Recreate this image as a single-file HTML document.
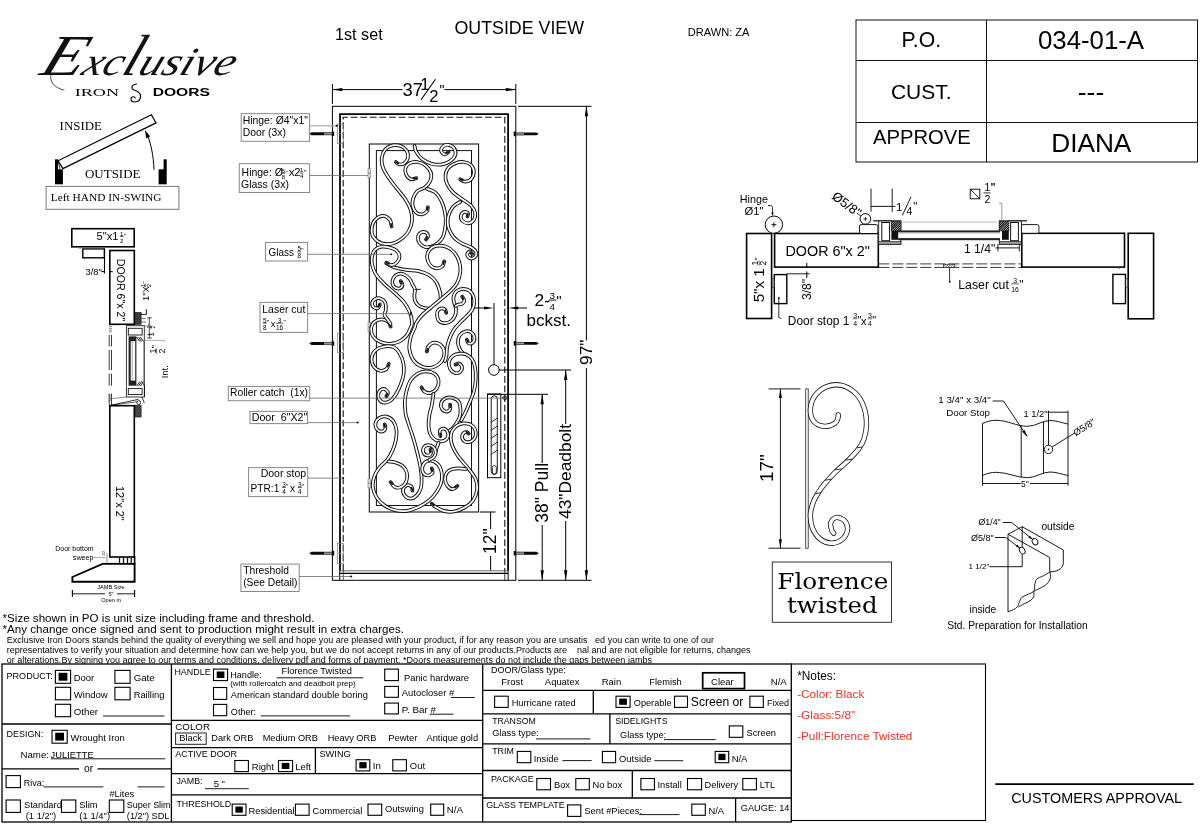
<!DOCTYPE html>
<html><head><meta charset="utf-8"><title>Door drawing</title>
<style>html,body{margin:0;padding:0;background:#fff}svg{display:block;will-change:transform;transform:translateZ(0)}text{white-space:pre}</style></head>
<body>
<svg width="1200" height="840" viewBox="0 0 1200 840" font-family='"Liberation Sans", sans-serif' fill="#000">
<rect x="0" y="0" width="1200" height="840" fill="#fff"/>
<g id="head">
<text x="335.05" y="39.6" font-size="16.16" textLength="47.6" lengthAdjust="spacingAndGlyphs">1st set</text>
<text x="454.48" y="33.8" font-size="17.81" textLength="129.6" lengthAdjust="spacingAndGlyphs">OUTSIDE VIEW</text>
<text x="687.67" y="36.4" font-size="11.09" textLength="61.82" lengthAdjust="spacingAndGlyphs">DRAWN: ZA</text>
<rect x="856" y="20" width="341.5" height="142" fill="none" stroke="#111" stroke-width="1"/>
<line x1="986.5" y1="20" x2="986.5" y2="162" stroke="#111" stroke-width="1"/>
<line x1="856" y1="60.5" x2="1197.5" y2="60.5" stroke="#111" stroke-width="1"/>
<line x1="856" y1="122.5" x2="1197.5" y2="122.5" stroke="#111" stroke-width="1"/>
<text x="921.3" y="47" font-size="21.2" text-anchor="middle">P.O.</text>
<text x="1091" y="49.3" font-size="25.8" text-anchor="middle">034-01-A</text>
<text x="921.3" y="99" font-size="21" text-anchor="middle">CUST.</text>
<text x="1091" y="101" font-size="26.5" text-anchor="middle">---</text>
<text x="872.93" y="143.5" font-size="20.22" textLength="97.78" lengthAdjust="spacingAndGlyphs">APPROVE</text>
<text x="1051.2" y="152" font-size="26.23" textLength="80.18" lengthAdjust="spacingAndGlyphs">DIANA</text>
<text y="75" font-style="italic" font-family='"Liberation Serif", serif' fill="#111" transform="translate(0 75) skewX(-21) translate(0 -75)"><tspan x="38" font-size="58" textLength="42" lengthAdjust="spacingAndGlyphs">E</tspan><tspan x="80" font-size="40" textLength="40" lengthAdjust="spacingAndGlyphs">xc</tspan><tspan x="120" font-size="58">l</tspan><tspan x="136.5" font-size="40" textLength="95" lengthAdjust="spacingAndGlyphs">usive</tspan></text>
<path d="M51 74C49 81 54 88 64 90" fill="none" stroke="#222" stroke-width="0.8" stroke-linecap="round"/>
<text x="74.66" y="96.4" font-size="11.3" textLength="44.36" lengthAdjust="spacingAndGlyphs" font-family='"Liberation Serif", serif'>IRON</text>
<text x="152.69" y="96.4" font-size="10.3" textLength="57.24" lengthAdjust="spacingAndGlyphs" font-weight="bold">DOORS</text>
<path d="M137 84 C132 84 130 88 134 90 C139 91 142 95 140 99 C138 103 131 103 131 99 C131 96 135 96 135.5 98.5" fill="none" stroke="#000" stroke-width="1.1"/>
<text x="59.61" y="129.7" font-size="12.89" textLength="42.26" lengthAdjust="spacingAndGlyphs" font-family='"Liberation Serif", serif'>INSIDE</text>
<text x="85.01" y="177.6" font-size="12.97" textLength="55.46" lengthAdjust="spacingAndGlyphs" font-family='"Liberation Serif", serif'>OUTSIDE</text>
<rect x="46.1" y="186.4" width="132.8" height="22.9" fill="none" stroke="#777" stroke-width="1"/>
<text x="50.73" y="200.7" font-size="11.39" textLength="110.7" lengthAdjust="spacingAndGlyphs" font-family='"Liberation Serif", serif'>Left HAND IN-SWING</text>
<rect x="55" y="169.3" width="7.9" height="15" fill="#000"/><rect x="55" y="159.3" width="3" height="11" fill="#000"/>
<rect x="158.6" y="169.3" width="8.1" height="15" fill="#000"/><rect x="163.6" y="159.3" width="3.1" height="11" fill="#000"/>
<path d="M58.1 160.7L151.4 114.7L156 122.9L62.9 168.6Z" fill="#fff" stroke="#000" stroke-width="1.2" stroke-linejoin="miter"/>
<path d="M58.1 160.7L60 169" fill="none" stroke="#000" stroke-width="0.8"/>
<path d="M154 169.7C153.5 156 151 143 146.5 133" fill="none" stroke="#000" stroke-width="1"/>
<polygon points="145,130 150.17,136.49 146.13,138.22" fill="#000"/>
</g>
<g id="door">
<line x1="332.4" y1="84" x2="332.4" y2="104" stroke="#000" stroke-width="1"/>
<line x1="515.8" y1="84" x2="515.8" y2="104" stroke="#000" stroke-width="1"/>
<line x1="332.4" y1="89.6" x2="402.5" y2="89.6" stroke="#000" stroke-width="1"/>
<line x1="444.3" y1="89.6" x2="515.8" y2="89.6" stroke="#000" stroke-width="1"/>
<polygon points="332.4,89.6 342.4,87.9 342.4,91.3" fill="#000"/>
<polygon points="515.8,89.6 505.8,91.3 505.8,87.9" fill="#000"/>
<text x="402.49" y="95.75" font-size="18.3" textLength="20.35" lengthAdjust="spacingAndGlyphs">37</text>
<text x="420.3" y="89.5" font-size="16.8">1</text>
<line x1="421" y1="99.75" x2="435.5" y2="79.25" stroke="#000" stroke-width="1.1"/>
<text x="429.2" y="102" font-size="16.5">2</text>
<text x="439.5" y="94.6" font-size="14">"</text>
<rect x="332.4" y="106.3" width="183.4" height="474" fill="none" stroke="#000" stroke-width="1"/>
<path d="M340 570.8V114H508.1V570.8" fill="none" stroke="#000" stroke-width="1.75" stroke-linejoin="miter"/>
<line x1="340" y1="570.8" x2="508.1" y2="570.8" stroke="#555" stroke-width="0.9"/>
<line x1="339.7" y1="573.4" x2="508.1" y2="573.4" stroke="#000" stroke-width="1.2"/>
<line x1="339.7" y1="570.6" x2="339.7" y2="580.3" stroke="#000" stroke-width="1"/>
<line x1="343.3" y1="570.6" x2="343.3" y2="580.3" stroke="#333" stroke-width="0.8"/>
<line x1="508.1" y1="570.6" x2="508.1" y2="580.3" stroke="#000" stroke-width="1"/>
<line x1="504.8" y1="570.6" x2="504.8" y2="580.3" stroke="#000" stroke-width="0.8"/>
<path d="M343.2 570.6V117.3H504.8V570.6" fill="none" stroke="#111" stroke-width="1.1" stroke-dasharray="6.7 2.9"/>
<rect x="337.3" y="124" width="6" height="19.3" fill="none" stroke="#777" stroke-width="0.7"/>
<line x1="337.3" y1="133.65" x2="343.3" y2="133.65" stroke="#999" stroke-width="0.6"/>
<rect x="337.3" y="333.1" width="6" height="19.4" fill="none" stroke="#777" stroke-width="0.7"/>
<line x1="337.3" y1="342.8" x2="343.3" y2="342.8" stroke="#999" stroke-width="0.6"/>
<rect x="337.3" y="543.5" width="6" height="19.8" fill="none" stroke="#777" stroke-width="0.7"/>
<line x1="337.3" y1="553.4" x2="343.3" y2="553.4" stroke="#999" stroke-width="0.6"/>
<path d="M309.2 133.7 L311.5 132.25 H324 V135.15 H311.5Z" fill="#0a0a0a" stroke="none" stroke-width="0"/>
<rect x="324" y="132.4" width="7.6" height="2.6" fill="#999" stroke="none" stroke-width="0"/>
<line x1="324" y1="132.6" x2="331.6" y2="132.6" stroke="#222" stroke-width="0.7"/>
<line x1="324" y1="134.8" x2="331.6" y2="134.8" stroke="#222" stroke-width="0.7"/>
<rect x="331.6" y="131.4" width="2.6" height="4.6" fill="#0a0a0a" stroke="none" stroke-width="0" rx="0.6"/>
<path d="M309.2 343.5 L311.5 342.05 H324 V344.95 H311.5Z" fill="#0a0a0a" stroke="none" stroke-width="0"/>
<rect x="324" y="342.2" width="7.6" height="2.6" fill="#999" stroke="none" stroke-width="0"/>
<line x1="324" y1="342.4" x2="331.6" y2="342.4" stroke="#222" stroke-width="0.7"/>
<line x1="324" y1="344.6" x2="331.6" y2="344.6" stroke="#222" stroke-width="0.7"/>
<rect x="331.6" y="341.2" width="2.6" height="4.6" fill="#0a0a0a" stroke="none" stroke-width="0" rx="0.6"/>
<path d="M309.2 553.3 L311.5 551.85 H324 V554.75 H311.5Z" fill="#0a0a0a" stroke="none" stroke-width="0"/>
<rect x="324" y="552" width="7.6" height="2.6" fill="#999" stroke="none" stroke-width="0"/>
<line x1="324" y1="552.2" x2="331.6" y2="552.2" stroke="#222" stroke-width="0.7"/>
<line x1="324" y1="554.4" x2="331.6" y2="554.4" stroke="#222" stroke-width="0.7"/>
<rect x="331.6" y="551" width="2.6" height="4.6" fill="#0a0a0a" stroke="none" stroke-width="0" rx="0.6"/>
<path d="M538.8 133.9 L536.5 132.45 H523.9 V135.35 H536.5Z" fill="#0a0a0a" stroke="none" stroke-width="0"/>
<rect x="516.3" y="132.6" width="7.6" height="2.6" fill="#999" stroke="none" stroke-width="0"/>
<line x1="516.3" y1="132.8" x2="523.9" y2="132.8" stroke="#222" stroke-width="0.7"/>
<line x1="516.3" y1="135" x2="523.9" y2="135" stroke="#222" stroke-width="0.7"/>
<rect x="513.7" y="131.6" width="2.6" height="4.6" fill="#0a0a0a" stroke="none" stroke-width="0" rx="0.6"/>
<path d="M538.8 343.4 L536.5 341.95 H523.9 V344.85 H536.5Z" fill="#0a0a0a" stroke="none" stroke-width="0"/>
<rect x="516.3" y="342.1" width="7.6" height="2.6" fill="#999" stroke="none" stroke-width="0"/>
<line x1="516.3" y1="342.3" x2="523.9" y2="342.3" stroke="#222" stroke-width="0.7"/>
<line x1="516.3" y1="344.5" x2="523.9" y2="344.5" stroke="#222" stroke-width="0.7"/>
<rect x="513.7" y="341.1" width="2.6" height="4.6" fill="#0a0a0a" stroke="none" stroke-width="0" rx="0.6"/>
<path d="M538.8 553.2 L536.5 551.75 H523.9 V554.65 H536.5Z" fill="#0a0a0a" stroke="none" stroke-width="0"/>
<rect x="516.3" y="551.9" width="7.6" height="2.6" fill="#999" stroke="none" stroke-width="0"/>
<line x1="516.3" y1="552.1" x2="523.9" y2="552.1" stroke="#222" stroke-width="0.7"/>
<line x1="516.3" y1="554.3" x2="523.9" y2="554.3" stroke="#222" stroke-width="0.7"/>
<rect x="513.7" y="550.9" width="2.6" height="4.6" fill="#0a0a0a" stroke="none" stroke-width="0" rx="0.6"/>
<rect x="369.3" y="144" width="109.3" height="368" fill="none" stroke="#111" stroke-width="1.05"/>
<rect x="376.4" y="150.6" width="95.1" height="354.9" fill="none" stroke="#111" stroke-width="1"/>
<rect x="368" y="168.8" width="2.6" height="9" fill="#ddd" stroke="#777" stroke-width="0.6"/>
<line x1="368" y1="173.3" x2="370.6" y2="173.3" stroke="#555" stroke-width="0.6"/>
<rect x="368" y="322.5" width="2.6" height="9" fill="#ddd" stroke="#777" stroke-width="0.6"/>
<line x1="368" y1="327" x2="370.6" y2="327" stroke="#555" stroke-width="0.6"/>
<rect x="368" y="478.8" width="2.6" height="9" fill="#ddd" stroke="#777" stroke-width="0.6"/>
<line x1="368" y1="483.3" x2="370.6" y2="483.3" stroke="#555" stroke-width="0.6"/>
<line x1="518" y1="106.3" x2="591.5" y2="106.3" stroke="#000" stroke-width="1"/>
<line x1="518" y1="580.3" x2="591.5" y2="580.3" stroke="#000" stroke-width="1"/>
<line x1="586.4" y1="106.3" x2="586.4" y2="340.5" stroke="#000" stroke-width="1"/>
<line x1="586.4" y1="368" x2="586.4" y2="580.3" stroke="#000" stroke-width="1"/>
<polygon points="586.4,106.3 588.1,116.3 584.7,116.3" fill="#000"/>
<polygon points="586.4,580.3 584.7,570.3 588.1,570.3" fill="#000"/>
<text x="591.8" y="365" font-size="17.36" textLength="25.48" lengthAdjust="spacingAndGlyphs" transform="rotate(-90 591.8 365)">97"</text>
<circle cx="493.9" cy="370" r="5.3" fill="#fff" stroke="#000" stroke-width="1"/>
<line x1="499.2" y1="370" x2="571" y2="370" stroke="#000" stroke-width="1"/>
<line x1="565.7" y1="370" x2="565.7" y2="424" stroke="#000" stroke-width="1"/>
<line x1="565.7" y1="521" x2="565.7" y2="580.3" stroke="#000" stroke-width="1"/>
<polygon points="565.7,370 567.4,380 564,380" fill="#000"/>
<polygon points="565.7,580.3 564,570.3 567.4,570.3" fill="#000"/>
<text x="571.29" y="519" font-size="17.37" textLength="95.04" lengthAdjust="spacingAndGlyphs" transform="rotate(-90 571.29 519)">43"Deadbolt</text>
<rect x="487.5" y="394" width="13.3" height="83.7" fill="#fff" stroke="#000" stroke-width="1"/>
<line x1="487.7" y1="394.3" x2="548" y2="394.3" stroke="#000" stroke-width="1"/>
<line x1="542.2" y1="394.3" x2="542.2" y2="463" stroke="#000" stroke-width="1"/>
<line x1="542.2" y1="525" x2="542.2" y2="580.3" stroke="#000" stroke-width="1"/>
<polygon points="542.2,394.3 543.9,404.3 540.5,404.3" fill="#000"/>
<polygon points="542.2,580.3 540.5,570.3 543.9,570.3" fill="#000"/>
<text x="547.99" y="522.7" font-size="17.51" textLength="59.74" lengthAdjust="spacingAndGlyphs" transform="rotate(-90 547.99 522.7)">38" Pull</text>
<path d="M491.2 398.9a3.05 3.05 0 0 1 6.1 0V471.3a3.05 3.05 0 0 1 -6.1 0Z" fill="#fff" stroke="#000" stroke-width="0.9"/>
<path d="M497.3 417.7 C496.5 419.9 492.5 420.3 491.2 422.7" fill="none" stroke="#000" stroke-width="0.8"/>
<path d="M491.2 422.7 C491.8 421.2 493 420.3 494 419.9" fill="none" stroke="#333" stroke-width="0.6"/>
<path d="M497.3 425.7 C496.5 427.9 492.5 428.3 491.2 430.7" fill="none" stroke="#000" stroke-width="0.8"/>
<path d="M491.2 430.7 C491.8 429.2 493 428.3 494 427.9" fill="none" stroke="#333" stroke-width="0.6"/>
<path d="M497.3 433.7 C496.5 435.9 492.5 436.3 491.2 438.7" fill="none" stroke="#000" stroke-width="0.8"/>
<path d="M491.2 438.7 C491.8 437.2 493 436.3 494 435.9" fill="none" stroke="#333" stroke-width="0.6"/>
<path d="M497.3 441.7 C496.5 443.9 492.5 444.3 491.2 446.7" fill="none" stroke="#000" stroke-width="0.8"/>
<path d="M491.2 446.7 C491.8 445.2 493 444.3 494 443.9" fill="none" stroke="#333" stroke-width="0.6"/>
<path d="M497.3 449.7 C496.5 451.9 492.5 452.3 491.2 454.7" fill="none" stroke="#000" stroke-width="0.8"/>
<path d="M492.4 467.5V472.3a1.95 1.95 0 0 0 3.9 0V467.5" fill="none" stroke="#000" stroke-width="0.8"/>
<path d="M492.4 467.5a1.95 1.95 0 0 1 3.9 0" fill="none" stroke="#000" stroke-width="0.7"/>
<line x1="494" y1="364.7" x2="494" y2="303" stroke="#000" stroke-width="1"/>
<line x1="474" y1="308" x2="486" y2="308" stroke="#000" stroke-width="1"/>
<polygon points="493.6,308 484.1,309.6 484.1,306.4" fill="#000"/>
<line x1="516" y1="308" x2="527" y2="308" stroke="#000" stroke-width="1"/>
<polygon points="508.6,308 518.1,306.4 518.1,309.6" fill="#000"/>
<text x="534.52" y="305.5" font-size="17.34" textLength="15.42" lengthAdjust="spacingAndGlyphs">2-</text>
<text x="549.6" y="298.5" font-size="9.8">3</text>
<line x1="548.6" y1="300.1" x2="556.2" y2="300.1" stroke="#000" stroke-width="0.9"/>
<text x="549.6" y="309.5" font-size="9.8">4</text>
<text x="556.3" y="306" font-size="15">"</text>
<text x="526.52" y="325.5" font-size="17.01" textLength="44.42" lengthAdjust="spacingAndGlyphs">bckst.</text>
<line x1="480" y1="512" x2="495.5" y2="512" stroke="#000" stroke-width="1"/>
<line x1="490.6" y1="512" x2="490.6" y2="529" stroke="#000" stroke-width="1"/>
<line x1="490.6" y1="556" x2="490.6" y2="570.3" stroke="#000" stroke-width="1"/>
<text x="496.11" y="554" font-size="17.43" textLength="25.58" lengthAdjust="spacingAndGlyphs" transform="rotate(-90 496.11 554)">12"</text>
<rect x="241.2" y="113.7" width="68.4" height="27.6" fill="#fff" stroke="#888" stroke-width="1"/>
<text x="242.69" y="124" font-size="10.4" textLength="65.22" lengthAdjust="spacingAndGlyphs">Hinge: Ø4"x1"</text>
<text x="242.69" y="136.3" font-size="10.37" textLength="43.22" lengthAdjust="spacingAndGlyphs">Door (3x)</text>
<line x1="309.6" y1="125.8" x2="336" y2="125.8" stroke="#aaa" stroke-width="1.2"/>
<polygon points="338.6,125.8 335.8,127.1 335.8,124.5" fill="#000"/>
<rect x="239.3" y="163.7" width="70.3" height="28.8" fill="#fff" stroke="#888" stroke-width="1"/>
<text x="241.59" y="176.3" font-size="10.47" textLength="41.32" lengthAdjust="spacingAndGlyphs">Hinge: Ø</text>
<text x="283.47" y="172.7" font-size="6" text-anchor="middle">5</text>
<line x1="281.6" y1="173.3" x2="285.34" y2="173.3" stroke="#000" stroke-width="0.6"/>
<text x="283.47" y="178.7" font-size="6" text-anchor="middle">8</text>
<text x="285.44" y="174.7" font-size="6">"</text>
<text x="288.69" y="176.3" font-size="11.29" textLength="11.92" lengthAdjust="spacingAndGlyphs">x2</text>
<text x="301.67" y="172.4" font-size="6" text-anchor="middle">1</text>
<line x1="299.8" y1="173" x2="303.54" y2="173" stroke="#000" stroke-width="0.6"/>
<text x="301.67" y="178.1" font-size="6" text-anchor="middle">4</text>
<text x="303.64" y="175.3" font-size="8">"</text>
<text x="240.99" y="188.2" font-size="10.52" textLength="47.92" lengthAdjust="spacingAndGlyphs">Glass (3x)</text>
<line x1="309.6" y1="175.5" x2="368" y2="175.5" stroke="#6a6a6a" stroke-width="0.8"/>
<rect x="265.4" y="242.4" width="42.2" height="18.6" fill="#fff" stroke="#888" stroke-width="1"/>
<text x="268.6" y="255.6" font-size="10.4" textLength="25.4" lengthAdjust="spacingAndGlyphs">Glass</text>
<text x="299.18" y="251.1" font-size="6.4" text-anchor="middle">5</text>
<line x1="297.2" y1="251.8" x2="301.16" y2="251.8" stroke="#000" stroke-width="0.6"/>
<text x="299.18" y="257.8" font-size="6.4" text-anchor="middle">8</text>
<text x="301.26" y="253.1" font-size="6.4">"</text>
<rect x="260" y="302.4" width="47.6" height="30" fill="#fff" stroke="#888" stroke-width="1"/>
<text x="262.29" y="312.6" font-size="10.46" textLength="43.02" lengthAdjust="spacingAndGlyphs">Laser cut</text>
<text x="264.78" y="322.5" font-size="6.4" text-anchor="middle">5</text>
<line x1="262.8" y1="323.2" x2="266.76" y2="323.2" stroke="#000" stroke-width="0.6"/>
<text x="264.78" y="329.8" font-size="6.4" text-anchor="middle">8</text>
<text x="266.86" y="324.5" font-size="6.4">"</text>
<text x="270.8" y="326.9" font-size="9.2">x</text>
<text x="279.56" y="322.5" font-size="6.4" text-anchor="middle">3</text>
<line x1="275.8" y1="323.2" x2="283.32" y2="323.2" stroke="#000" stroke-width="0.6"/>
<text x="279.56" y="329.8" font-size="6.4" text-anchor="middle">16</text>
<text x="283.42" y="324.5" font-size="6.4">"</text>
<rect x="228.3" y="386.4" width="81.4" height="14.3" fill="#fff" stroke="#888" stroke-width="1"/>
<text x="229.99" y="396.4" font-size="10.32" textLength="78.02" lengthAdjust="spacingAndGlyphs">Roller catch  (1x)</text>
<rect x="250" y="411.4" width="57.6" height="12.2" fill="#fff" stroke="#888" stroke-width="1"/>
<text x="251.69" y="421.4" font-size="10.67" textLength="55.62" lengthAdjust="spacingAndGlyphs">Door  6"X2"</text>
<line x1="307.6" y1="422.6" x2="357" y2="422.6" stroke="#6a6a6a" stroke-width="0.8"/>
<circle cx="357.6" cy="422.6" r="1" fill="#000" stroke="none" stroke-width="0"/>
<rect x="248.6" y="467.6" width="59.1" height="29" fill="#fff" stroke="#888" stroke-width="1"/>
<text x="260.69" y="476.9" font-size="10.5" textLength="45.52" lengthAdjust="spacingAndGlyphs">Door stop</text>
<text x="250.59" y="491.7" font-size="10.14" textLength="28.72" lengthAdjust="spacingAndGlyphs">PTR:1</text>
<text x="283.98" y="486.8" font-size="6.4" text-anchor="middle">3</text>
<line x1="282" y1="487.5" x2="285.96" y2="487.5" stroke="#000" stroke-width="0.6"/>
<text x="283.98" y="493.5" font-size="6.4" text-anchor="middle">4</text>
<text x="286.06" y="488.8" font-size="6.4">"</text>
<text x="290.1" y="491.7" font-size="10.2">x</text>
<text x="299.78" y="486.8" font-size="6.4" text-anchor="middle">3</text>
<line x1="297.8" y1="487.5" x2="301.76" y2="487.5" stroke="#000" stroke-width="0.6"/>
<text x="299.78" y="493.5" font-size="6.4" text-anchor="middle">4</text>
<text x="301.86" y="488.8" font-size="6.4">"</text>
<line x1="307.7" y1="478.1" x2="343" y2="478.1" stroke="#6a6a6a" stroke-width="0.8"/>
<circle cx="343.2" cy="478.1" r="1" fill="#000" stroke="none" stroke-width="0"/>
<rect x="240.9" y="564.1" width="58.3" height="27.4" fill="#fff" stroke="#888" stroke-width="1"/>
<text x="243.19" y="574" font-size="10.28" textLength="45.72" lengthAdjust="spacingAndGlyphs">Threshold</text>
<text x="243.19" y="586" font-size="10.27" textLength="54.22" lengthAdjust="spacingAndGlyphs">(See Detail)</text>
<line x1="299.2" y1="576.5" x2="351" y2="576.5" stroke="#6a6a6a" stroke-width="0.8"/>
<circle cx="351.2" cy="576.5" r="1" fill="#000" stroke="none" stroke-width="0"/>
</g>
<g id="left">
<rect x="71.8" y="228.7" width="62.4" height="18.1" fill="none" stroke="#000" stroke-width="1.6"/>
<text x="96.51" y="239.8" font-size="11.12" textLength="21.88" lengthAdjust="spacingAndGlyphs">5"x1</text>
<text x="121.72" y="235.8" font-size="6.2" text-anchor="middle">1</text>
<line x1="119.8" y1="236.5" x2="123.65" y2="236.5" stroke="#000" stroke-width="0.6"/>
<text x="121.72" y="242.5" font-size="6.2" text-anchor="middle">2</text>
<text x="123.75" y="237.8" font-size="6.2">"</text>
<rect x="82.8" y="248.9" width="21.6" height="8.9" fill="none" stroke="#000" stroke-width="1.4"/>
<line x1="78" y1="248" x2="104" y2="248" stroke="#666" stroke-width="0.8"/>
<line x1="104.5" y1="248.9" x2="104.5" y2="273.5" stroke="#000" stroke-width="1.1"/>
<line x1="101.3" y1="271.6" x2="104.5" y2="271.6" stroke="#000" stroke-width="1.1"/>
<line x1="110" y1="271.6" x2="112.7" y2="271.6" stroke="#000" stroke-width="1.1"/>
<text x="85.46" y="274.6" font-size="9.32" textLength="16.26" lengthAdjust="spacingAndGlyphs">3/8"</text>
<rect x="109.8" y="250.5" width="24.5" height="73.8" fill="none" stroke="#000" stroke-width="1.6"/>
<text x="116.99" y="258.8" font-size="10.62" textLength="62.45" lengthAdjust="spacingAndGlyphs" transform="rotate(90 116.99 258.8)">DOOR 6"x 2"</text>
<text x="148.72" y="301" font-size="9.28" textLength="14.64" lengthAdjust="spacingAndGlyphs" transform="rotate(-90 148.72 301)">1"X</text>
<g transform="translate(149 287.2) rotate(-90)">
<text x="1.67" y="-4.4" font-size="6" text-anchor="middle">1</text>
<line x1="-0.2" y1="-3.7" x2="3.54" y2="-3.7" stroke="#000" stroke-width="0.6"/>
<text x="1.67" y="2.3" font-size="6" text-anchor="middle">2</text>
<text x="3.64" y="-2.4" font-size="6">"</text>
</g>
<rect x="135.4" y="312.6" width="5.7" height="11.7" fill="#555" stroke="#222" stroke-width="0.7"/>
<line x1="135.4" y1="314.2" x2="137" y2="312.6" stroke="#111" stroke-width="0.6"/>
<line x1="135.4" y1="315.8" x2="138.6" y2="312.6" stroke="#111" stroke-width="0.6"/>
<line x1="135.4" y1="317.4" x2="140.2" y2="312.6" stroke="#111" stroke-width="0.6"/>
<line x1="135.4" y1="319" x2="141.1" y2="313.3" stroke="#111" stroke-width="0.6"/>
<line x1="135.4" y1="320.6" x2="141.1" y2="314.9" stroke="#111" stroke-width="0.6"/>
<line x1="135.4" y1="322.2" x2="141.1" y2="316.5" stroke="#111" stroke-width="0.6"/>
<line x1="135.4" y1="323.8" x2="141.1" y2="318.1" stroke="#111" stroke-width="0.6"/>
<line x1="136.5" y1="324.3" x2="141.1" y2="319.7" stroke="#111" stroke-width="0.6"/>
<line x1="138.1" y1="324.3" x2="141.1" y2="321.3" stroke="#111" stroke-width="0.6"/>
<line x1="139.7" y1="324.3" x2="141.1" y2="322.9" stroke="#111" stroke-width="0.6"/>
<path d="M141.1 314.4H146.4V309.3" fill="none" stroke="#000" stroke-width="0.9"/>
<path d="M141.5 318.5H145.5M141.5 322H146" fill="none" stroke="#333" stroke-width="0.7"/>
<text x="153.8" y="336.6" font-size="8" transform="rotate(-90 153.8 336.6)">1</text>
<g transform="translate(153.8 328.5) rotate(-90)">
<text x="1.39" y="-3.3" font-size="5" text-anchor="middle">1</text>
<line x1="-0.2" y1="-2.8" x2="2.98" y2="-2.8" stroke="#000" stroke-width="0.6"/>
<text x="1.39" y="1.6" font-size="5" text-anchor="middle">2</text>
<text x="3.08" y="-1.8" font-size="5">"</text>
</g>
<line x1="149.3" y1="317" x2="149.3" y2="338.5" stroke="#222" stroke-width="0.8"/>
<line x1="147" y1="317.9" x2="152" y2="317.9" stroke="#222" stroke-width="0.7"/>
<line x1="147" y1="334.6" x2="152" y2="334.6" stroke="#222" stroke-width="0.7"/>
<line x1="147" y1="338" x2="152" y2="338" stroke="#222" stroke-width="0.7"/>
<line x1="144.3" y1="326" x2="149.3" y2="326" stroke="#333" stroke-width="0.6"/>
<rect x="126.4" y="325.7" width="17.9" height="71.3" fill="none" stroke="#222" stroke-width="0.9"/>
<rect x="128.3" y="328.3" width="13.8" height="6.7" fill="#fff" stroke="#111" stroke-width="0.9"/>
<rect x="128.3" y="388.6" width="13.8" height="6" fill="#fff" stroke="#111" stroke-width="0.9"/>
<rect x="128.6" y="336.4" width="7.8" height="49.3" fill="#222" stroke="none" stroke-width="0"/>
<rect x="130.7" y="341.2" width="4.5" height="39.4" fill="#fff" stroke="none" stroke-width="0"/>
<line x1="132.2" y1="341" x2="132.2" y2="381" stroke="#555" stroke-width="0.5"/>
<line x1="136.8" y1="337" x2="139.8" y2="341.5" stroke="#111" stroke-width="0.9"/>
<line x1="136.8" y1="386" x2="139.8" y2="381.5" stroke="#111" stroke-width="0.9"/>
<line x1="138.6" y1="337" x2="141.6" y2="341.5" stroke="#111" stroke-width="0.9"/>
<line x1="138.6" y1="386" x2="141.6" y2="381.5" stroke="#111" stroke-width="0.9"/>
<line x1="140.4" y1="337" x2="143.4" y2="341.5" stroke="#111" stroke-width="0.9"/>
<line x1="140.4" y1="386" x2="143.4" y2="381.5" stroke="#111" stroke-width="0.9"/>
<line x1="143.7" y1="340" x2="143.7" y2="381.4" stroke="#777" stroke-width="0.7"/>
<line x1="137" y1="340.4" x2="164.3" y2="340.4" stroke="#777" stroke-width="0.6"/>
<line x1="164.3" y1="340.4" x2="164.3" y2="342" stroke="#777" stroke-width="0.6"/>
<path d="M142 381.5L144.5 386V397" fill="none" stroke="#000" stroke-width="0.8"/>
<g transform="translate(160.5 353.5) rotate(-90)">
<text x="2.45" y="-4.5" font-size="8.8" text-anchor="middle">1</text>
<line x1="-0.2" y1="-3.9" x2="5.09" y2="-3.9" stroke="#000" stroke-width="0.6"/>
<text x="2.45" y="4.5" font-size="8.8" text-anchor="middle">2</text>
<text x="5.19" y="-2.5" font-size="8.8">"</text>
</g>
<text x="167.94" y="378.3" font-size="9.4" textLength="13.06" lengthAdjust="spacingAndGlyphs" transform="rotate(-90 167.94 378.3)">Int.</text>
<line x1="109.2" y1="335" x2="109.2" y2="346.4" stroke="#222" stroke-width="0.9"/>
<line x1="109.2" y1="350" x2="109.2" y2="370" stroke="#222" stroke-width="0.9"/>
<line x1="109.2" y1="373.6" x2="109.2" y2="385.7" stroke="#222" stroke-width="0.9"/>
<line x1="109.2" y1="393.6" x2="109.2" y2="405" stroke="#222" stroke-width="0.9"/>
<line x1="111.5" y1="335" x2="111.5" y2="346.4" stroke="#222" stroke-width="0.9"/>
<line x1="111.5" y1="350" x2="111.5" y2="370" stroke="#222" stroke-width="0.9"/>
<line x1="111.5" y1="373.6" x2="111.5" y2="385.7" stroke="#222" stroke-width="0.9"/>
<line x1="111.5" y1="393.6" x2="111.5" y2="405" stroke="#222" stroke-width="0.9"/>
<line x1="108.8" y1="326.5" x2="112" y2="326.5" stroke="#444" stroke-width="0.6"/>
<line x1="108.8" y1="395" x2="112" y2="395" stroke="#444" stroke-width="0.6"/>
<line x1="108.8" y1="328.3" x2="112" y2="328.3" stroke="#444" stroke-width="0.6"/>
<line x1="108.8" y1="396.8" x2="112" y2="396.8" stroke="#444" stroke-width="0.6"/>
<line x1="108.8" y1="330.1" x2="112" y2="330.1" stroke="#444" stroke-width="0.6"/>
<line x1="108.8" y1="398.6" x2="112" y2="398.6" stroke="#444" stroke-width="0.6"/>
<line x1="108.8" y1="331.9" x2="112" y2="331.9" stroke="#444" stroke-width="0.6"/>
<line x1="108.8" y1="400.4" x2="112" y2="400.4" stroke="#444" stroke-width="0.6"/>
<line x1="110.7" y1="405.3" x2="138.6" y2="399.3" stroke="#000" stroke-width="0.8"/>
<line x1="110.7" y1="405.3" x2="138.6" y2="401.5" stroke="#000" stroke-width="0.6"/>
<line x1="109.8" y1="398.8" x2="126.4" y2="397" stroke="#444" stroke-width="0.6"/>
<circle cx="138.8" cy="402.6" r="1.9" fill="#fff" stroke="#000" stroke-width="0.8"/>
<line x1="142" y1="397" x2="144.3" y2="403" stroke="#000" stroke-width="0.8"/>
<rect x="109.8" y="405.7" width="24.5" height="151.3" fill="none" stroke="#000" stroke-width="1.6"/>
<rect x="135.4" y="405.2" width="5.7" height="11.8" fill="#666" stroke="#222" stroke-width="0.7"/>
<line x1="135.4" y1="406.8" x2="137" y2="405.2" stroke="#111" stroke-width="0.6"/>
<line x1="135.4" y1="408.4" x2="138.6" y2="405.2" stroke="#111" stroke-width="0.6"/>
<line x1="135.4" y1="410" x2="140.2" y2="405.2" stroke="#111" stroke-width="0.6"/>
<line x1="135.4" y1="411.6" x2="141.1" y2="405.9" stroke="#111" stroke-width="0.6"/>
<line x1="135.4" y1="413.2" x2="141.1" y2="407.5" stroke="#111" stroke-width="0.6"/>
<line x1="135.4" y1="414.8" x2="141.1" y2="409.1" stroke="#111" stroke-width="0.6"/>
<line x1="135.4" y1="416.4" x2="141.1" y2="410.7" stroke="#111" stroke-width="0.6"/>
<line x1="136.4" y1="417" x2="141.1" y2="412.3" stroke="#111" stroke-width="0.6"/>
<line x1="138" y1="417" x2="141.1" y2="413.9" stroke="#111" stroke-width="0.6"/>
<line x1="139.6" y1="417" x2="141.1" y2="415.5" stroke="#111" stroke-width="0.6"/>
<text x="115.88" y="486" font-size="11.02" textLength="34.77" lengthAdjust="spacingAndGlyphs" transform="rotate(90 115.88 486)">12"x 2"</text>
<text x="55.29" y="551" font-size="6.97" textLength="38.33" lengthAdjust="spacingAndGlyphs">Door bottom</text>
<text x="72.79" y="559.5" font-size="7.21" textLength="20.83" lengthAdjust="spacingAndGlyphs">sweep</text>
<line x1="93.5" y1="557.6" x2="106" y2="557.6" stroke="#666" stroke-width="0.6"/>
<line x1="107" y1="553" x2="107" y2="562.6" stroke="#444" stroke-width="0.6"/>
<text x="105.3" y="556" font-size="3.6" transform="rotate(-90 105.3 556)">1/2</text>
<line x1="119.5" y1="557.5" x2="119.5" y2="563.3" stroke="#111" stroke-width="1.3"/>
<line x1="123.5" y1="557.5" x2="123.5" y2="563.3" stroke="#111" stroke-width="1.3"/>
<line x1="127.5" y1="557.5" x2="127.5" y2="563.3" stroke="#111" stroke-width="1.3"/>
<line x1="131.2" y1="557.5" x2="131.2" y2="563.3" stroke="#111" stroke-width="1.3"/>
<line x1="103.8" y1="563.3" x2="118" y2="563.3" stroke="#444" stroke-width="0.7"/>
<line x1="134.6" y1="556" x2="134.6" y2="564" stroke="#000" stroke-width="1.6"/>
<path d="M72.4 577L102.5 563.9H134.6V581.8H72.4Z" fill="#fff" stroke="#000" stroke-width="1.9" stroke-linejoin="miter"/>
<text x="111" y="588.9" font-size="5.6" text-anchor="middle">JAMB Size</text>
<text x="111" y="595.6" font-size="5.6" text-anchor="middle">5"</text>
<text x="111" y="602" font-size="5.6" text-anchor="middle">Open in</text>
<line x1="72.4" y1="593.8" x2="105" y2="593.8" stroke="#000" stroke-width="0.9"/>
<line x1="117" y1="593.8" x2="134.6" y2="593.8" stroke="#000" stroke-width="0.9"/>
<line x1="72.4" y1="590" x2="72.4" y2="597" stroke="#000" stroke-width="1.1"/>
<line x1="134.6" y1="590" x2="134.6" y2="597" stroke="#000" stroke-width="1.1"/>
</g>
<g id="cross">
<rect x="746.6" y="233.5" width="25" height="85" fill="none" stroke="#000" stroke-width="1.6"/>
<text x="763.6" y="302.3" font-size="13.9" textLength="34" lengthAdjust="spacingAndGlyphs" transform="rotate(-90 763.6 302.3)">5"x 1</text>
<g transform="translate(763.6 265.5) rotate(-90)">
<text x="2.36" y="-5.2" font-size="8.5" text-anchor="middle">1</text>
<line x1="-0.2" y1="-4.4" x2="4.93" y2="-4.4" stroke="#000" stroke-width="0.6"/>
<text x="2.36" y="2.6" font-size="8.5" text-anchor="middle">2</text>
<text x="5.03" y="-3" font-size="8.5">"</text>
</g>
<circle cx="773.9" cy="224.7" r="8.7" fill="#fff" stroke="#000" stroke-width="1"/>
<line x1="771.4" y1="224.7" x2="776.4" y2="224.7" stroke="#000" stroke-width="0.9"/>
<line x1="773.9" y1="222.2" x2="773.9" y2="227.2" stroke="#000" stroke-width="0.9"/>
<text x="739.71" y="202.9" font-size="10.78" textLength="28.18" lengthAdjust="spacingAndGlyphs">Hinge</text>
<text x="744.51" y="215.4" font-size="11.29" textLength="19.08" lengthAdjust="spacingAndGlyphs">Ø1"</text>
<path d="M768 205.5H770.5Q772.5 205.5 772.5 207.5V214" fill="none" stroke="#000" stroke-width="0.8"/>
<polygon points="772.5,216 771.3,212.5 773.7,212.5" fill="#000"/>
<rect x="774.6" y="233.5" width="103.7" height="33.6" fill="#fff" stroke="#000" stroke-width="1.6"/>
<text x="785.48" y="255.9" font-size="14.36" textLength="84.38" lengthAdjust="spacingAndGlyphs">DOOR 6"x 2"</text>
<rect x="774.3" y="274.6" width="12.5" height="29" fill="none" stroke="#000" stroke-width="1.4"/>
<rect x="772" y="278.8" width="2.3" height="8.9" fill="none" stroke="#333" stroke-width="0.7"/>
<line x1="806.8" y1="263" x2="806.8" y2="267.1" stroke="#000" stroke-width="1"/>
<line x1="786.8" y1="273.8" x2="809.6" y2="273.8" stroke="#000" stroke-width="0.9"/>
<line x1="806.8" y1="271.5" x2="806.8" y2="277.9" stroke="#000" stroke-width="1"/>
<text x="810.71" y="300" font-size="12.13" textLength="21.18" lengthAdjust="spacingAndGlyphs" transform="rotate(-90 810.71 300)">3/8"</text>
<circle cx="778.8" cy="297.9" r="0.9" fill="#000" stroke="none" stroke-width="0"/>
<path d="M778.8 297.9V317.5L781.2 318.6" fill="none" stroke="#000" stroke-width="0.8"/>
<text x="787.87" y="324.5" font-size="11.88" textLength="61.42" lengthAdjust="spacingAndGlyphs">Door stop 1</text>
<text x="855.15" y="317.8" font-size="7" text-anchor="middle">3</text>
<line x1="853" y1="318.8" x2="857.29" y2="318.8" stroke="#000" stroke-width="0.6"/>
<text x="855.15" y="325.6" font-size="7" text-anchor="middle">4</text>
<text x="857.39" y="324.1" font-size="11">"</text>
<text x="861" y="324.5" font-size="11">x</text>
<text x="869.95" y="317.8" font-size="7" text-anchor="middle">3</text>
<line x1="867.8" y1="318.8" x2="872.09" y2="318.8" stroke="#000" stroke-width="0.6"/>
<text x="869.95" y="325.6" font-size="7" text-anchor="middle">4</text>
<text x="872.19" y="324.1" font-size="11">"</text>
<circle cx="865.4" cy="218.9" r="5.3" fill="#fff" stroke="#000" stroke-width="1"/>
<line x1="863.4" y1="218.9" x2="867.4" y2="218.9" stroke="#000" stroke-width="0.8"/>
<line x1="865.4" y1="216.9" x2="865.4" y2="220.9" stroke="#000" stroke-width="0.8"/>
<text x="830.98" y="198" font-size="12.98" textLength="32.76" lengthAdjust="spacingAndGlyphs" transform="rotate(37 830.98 198)">Ø5/8"</text>
<line x1="857" y1="213.2" x2="861" y2="216" stroke="#000" stroke-width="0.8"/>
<rect x="859.5" y="224.6" width="18.4" height="8.9" fill="#fff" stroke="#000" stroke-width="0.9" rx="1.5"/>
<line x1="871" y1="188.6" x2="871" y2="211.8" stroke="#000" stroke-width="0.9"/>
<line x1="892.2" y1="188.6" x2="892.2" y2="211.8" stroke="#000" stroke-width="0.9"/>
<line x1="871" y1="206.4" x2="895.5" y2="206.4" stroke="#000" stroke-width="0.9"/>
<text x="896" y="210.7" font-size="11.5">1</text>
<line x1="902.3" y1="215.5" x2="911" y2="196.8" stroke="#000" stroke-width="0.9"/>
<text x="906.5" y="214.5" font-size="10.5">4</text>
<text x="913.3" y="209.5" font-size="11.5">"</text>
<rect x="878.7" y="220.7" width="22.2" height="23.6" fill="#fff" stroke="#222" stroke-width="0.9"/>
<rect x="881.8" y="222.5" width="7.8" height="18.2" fill="#fff" stroke="#111" stroke-width="1"/>
<rect x="891.4" y="221.4" width="9.5" height="9.5" fill="#fff" stroke="#222" stroke-width="0.7"/>
<line x1="891.4" y1="223.6" x2="893.6" y2="221.4" stroke="#000" stroke-width="1.1"/>
<line x1="891.4" y1="225.8" x2="895.8" y2="221.4" stroke="#000" stroke-width="1.1"/>
<line x1="891.4" y1="228" x2="898" y2="221.4" stroke="#000" stroke-width="1.1"/>
<line x1="891.4" y1="230.2" x2="900.2" y2="221.4" stroke="#000" stroke-width="1.1"/>
<line x1="892.9" y1="230.9" x2="900.9" y2="222.9" stroke="#000" stroke-width="1.1"/>
<line x1="895.1" y1="230.9" x2="900.9" y2="225.1" stroke="#000" stroke-width="1.1"/>
<line x1="897.3" y1="230.9" x2="900.9" y2="227.3" stroke="#000" stroke-width="1.1"/>
<line x1="899.5" y1="230.9" x2="900.9" y2="229.5" stroke="#000" stroke-width="1.1"/>
<rect x="891.4" y="230.9" width="6.8" height="8.9" fill="#111" stroke="none" stroke-width="0"/>
<rect x="878.7" y="241.6" width="22.2" height="2.7" fill="#999" stroke="#222" stroke-width="0.7"/>
<line x1="873.2" y1="220.8" x2="891.9" y2="220.8" stroke="#333" stroke-width="1.4"/>
<rect x="999.3" y="220.7" width="22.2" height="23.6" fill="#fff" stroke="#222" stroke-width="0.9"/>
<rect x="1010.6" y="222.5" width="7.8" height="18.2" fill="#fff" stroke="#111" stroke-width="1"/>
<rect x="999.3" y="221.4" width="9.5" height="9.5" fill="#fff" stroke="#222" stroke-width="0.7"/>
<line x1="999.3" y1="223.6" x2="1001.5" y2="221.4" stroke="#000" stroke-width="1.1"/>
<line x1="999.3" y1="225.8" x2="1003.7" y2="221.4" stroke="#000" stroke-width="1.1"/>
<line x1="999.3" y1="228" x2="1005.9" y2="221.4" stroke="#000" stroke-width="1.1"/>
<line x1="999.3" y1="230.2" x2="1008.1" y2="221.4" stroke="#000" stroke-width="1.1"/>
<line x1="1000.8" y1="230.9" x2="1008.8" y2="222.9" stroke="#000" stroke-width="1.1"/>
<line x1="1003" y1="230.9" x2="1008.8" y2="225.1" stroke="#000" stroke-width="1.1"/>
<line x1="1005.2" y1="230.9" x2="1008.8" y2="227.3" stroke="#000" stroke-width="1.1"/>
<line x1="1007.4" y1="230.9" x2="1008.8" y2="229.5" stroke="#000" stroke-width="1.1"/>
<rect x="1002" y="230.9" width="6.8" height="8.9" fill="#111" stroke="none" stroke-width="0"/>
<rect x="999.3" y="241.6" width="22.2" height="2.7" fill="#999" stroke="#222" stroke-width="0.7"/>
<line x1="1027" y1="220.8" x2="1008.3" y2="220.8" stroke="#333" stroke-width="1.4"/>
<line x1="900.9" y1="222" x2="997.3" y2="222" stroke="#888" stroke-width="0.6"/>
<rect x="898.2" y="230.4" width="101.8" height="9.8" fill="#222" stroke="none" stroke-width="0"/>
<rect x="898.2" y="232.4" width="101.8" height="5.7" fill="#fff" stroke="none" stroke-width="0"/>
<line x1="898.2" y1="233.3" x2="1000" y2="233.3" stroke="#999" stroke-width="0.5"/>
<rect x="970.2" y="189.2" width="9.6" height="9.6" fill="none" stroke="#000" stroke-width="0.9"/>
<line x1="970.2" y1="189.2" x2="979.8" y2="198.8" stroke="#000" stroke-width="0.8"/>
<text x="984.5" y="190.8" font-size="10.5">1</text>
<text x="990.5" y="190.8" font-size="10.5" font-weight="bold">"</text>
<line x1="983.5" y1="192.9" x2="990.5" y2="192.9" stroke="#000" stroke-width="0.8"/>
<text x="984.5" y="203.2" font-size="10.5">2</text>
<path d="M999 203.2H1001.8V221" fill="none" stroke="#555" stroke-width="0.6"/>
<text x="963.95" y="252.9" font-size="12.17" textLength="31.38" lengthAdjust="spacingAndGlyphs">1 1/4"</text>
<line x1="995.5" y1="247.9" x2="1019.3" y2="247.9" stroke="#000" stroke-width="0.9"/>
<line x1="997.9" y1="244" x2="997.9" y2="251.4" stroke="#000" stroke-width="0.9"/>
<line x1="1019.3" y1="244" x2="1019.3" y2="251.4" stroke="#000" stroke-width="0.9"/>
<line x1="878.3" y1="263.9" x2="1021.8" y2="263.9" stroke="#222" stroke-width="0.9" stroke-dasharray="11 3"/>
<line x1="878.3" y1="267.4" x2="1021.8" y2="267.4" stroke="#222" stroke-width="0.9" stroke-dasharray="11 3"/>
<rect x="943.4" y="264.3" width="11.4" height="3.3" fill="#fff" stroke="#222" stroke-width="0.7"/>
<line x1="943.4" y1="266.8" x2="945.9" y2="264.3" stroke="#222" stroke-width="0.7"/>
<line x1="945.1" y1="267.6" x2="948.4" y2="264.3" stroke="#222" stroke-width="0.7"/>
<line x1="947.6" y1="267.6" x2="950.9" y2="264.3" stroke="#222" stroke-width="0.7"/>
<line x1="950.1" y1="267.6" x2="953.4" y2="264.3" stroke="#222" stroke-width="0.7"/>
<line x1="952.6" y1="267.6" x2="954.8" y2="265.4" stroke="#222" stroke-width="0.7"/>
<line x1="949.6" y1="267.6" x2="949.6" y2="281.5" stroke="#000" stroke-width="0.8"/>
<circle cx="949.8" cy="281.8" r="0.9" fill="#000" stroke="none" stroke-width="0"/>
<text x="958.24" y="288.9" font-size="12.31" textLength="50.64" lengthAdjust="spacingAndGlyphs">Laser cut</text>
<text x="1015.08" y="282.5" font-size="6.8" text-anchor="middle">3</text>
<line x1="1011.1" y1="283.9" x2="1019.06" y2="283.9" stroke="#000" stroke-width="0.6"/>
<text x="1015.08" y="291.5" font-size="6.8" text-anchor="middle">16</text>
<text x="1019.16" y="289.1" font-size="12">"</text>
<rect x="1021.8" y="233.3" width="102.7" height="33.8" fill="#fff" stroke="#000" stroke-width="1.6"/>
<rect x="1021.4" y="224.6" width="17.5" height="8.7" fill="#fff" stroke="#000" stroke-width="0.9" rx="1.5"/>
<rect x="1128.2" y="233.3" width="25.4" height="85.5" fill="none" stroke="#000" stroke-width="1.6"/>
<rect x="1112.9" y="274.4" width="12.6" height="29.2" fill="none" stroke="#000" stroke-width="1.4"/>
<rect x="1125.5" y="278.8" width="2.7" height="8.3" fill="none" stroke="#333" stroke-width="0.7"/>
<line x1="1119.5" y1="267.1" x2="1119.5" y2="269" stroke="#444" stroke-width="0.7"/>
</g>
<g id="right">
<line x1="780.4" y1="388.9" x2="780.4" y2="548.2" stroke="#000" stroke-width="0.9"/>
<line x1="768.6" y1="388.9" x2="800.5" y2="388.9" stroke="#000" stroke-width="0.9"/>
<line x1="768.6" y1="548.2" x2="800.5" y2="548.2" stroke="#000" stroke-width="0.9"/>
<polygon points="780.4,388.9 781.9,397.9 778.9,397.9" fill="#000"/>
<polygon points="780.4,548.2 778.9,539.2 781.9,539.2" fill="#000"/>
<text x="773.39" y="482.1" font-size="18.9" textLength="27.74" lengthAdjust="spacingAndGlyphs" transform="rotate(-90 773.39 482.1)">17"</text>
<rect x="805.7" y="388.9" width="2.5" height="159.3" fill="none" stroke="#222" stroke-width="0.8"/>
<g stroke-linecap="round" stroke-linejoin="round" fill="none">
<path d="M838.2 414.8C838.15 415.33 838.43 416.6 837.9 418C837.37 419.4 837.27 421.8 835 423.2C832.73 424.6 827.87 426.75 824.3 426.4C820.73 426.05 815.92 423.95 813.6 421.1C811.28 418.25 810.23 413.42 810.4 409.3C810.57 405.18 811.93 400.15 814.6 396.4C817.27 392.65 821.93 388.65 826.4 386.8C830.87 384.95 836.57 384.23 841.4 385.3C846.23 386.37 851.65 389.57 855.4 393.2C859.15 396.83 862.05 401.92 863.9 407.1C865.75 412.28 866.5 418.93 866.5 424.3C866.5 429.67 865.22 435.2 863.9 439.3C862.58 443.4 861.27 445.33 858.6 448.9C855.93 452.47 851.83 456.77 847.9 460.7C843.97 464.63 838.93 468.57 835 472.5C831.07 476.43 826.98 481.08 824.3 484.3C821.62 487.52 820.68 488.95 818.9 491.8C817.12 494.65 815.02 497.65 813.6 501.4C812.18 505.15 810.58 509.83 810.4 514.3C810.22 518.77 810.9 524.1 812.5 528.2C814.1 532.3 816.97 536.4 820 538.9C823.03 541.4 827.13 543.02 830.7 543.2C834.27 543.38 838.62 542.13 841.4 540C844.18 537.87 846.87 533.62 847.4 530.4C847.93 527.18 846.48 522.85 844.6 520.7C842.72 518.55 838.42 517.13 836.1 517.5C833.78 517.87 831.42 520.75 830.7 522.9C829.98 525.05 831.3 528.68 831.8 530.4C832.3 532.12 833.38 532.73 833.7 533.2" stroke="#111" stroke-width="5.3"/>
<path d="M838.2 414.8C838.15 415.33 838.43 416.6 837.9 418C837.37 419.4 837.27 421.8 835 423.2C832.73 424.6 827.87 426.75 824.3 426.4C820.73 426.05 815.92 423.95 813.6 421.1C811.28 418.25 810.23 413.42 810.4 409.3C810.57 405.18 811.93 400.15 814.6 396.4C817.27 392.65 821.93 388.65 826.4 386.8C830.87 384.95 836.57 384.23 841.4 385.3C846.23 386.37 851.65 389.57 855.4 393.2C859.15 396.83 862.05 401.92 863.9 407.1C865.75 412.28 866.5 418.93 866.5 424.3C866.5 429.67 865.22 435.2 863.9 439.3C862.58 443.4 861.27 445.33 858.6 448.9C855.93 452.47 851.83 456.77 847.9 460.7C843.97 464.63 838.93 468.57 835 472.5C831.07 476.43 826.98 481.08 824.3 484.3C821.62 487.52 820.68 488.95 818.9 491.8C817.12 494.65 815.02 497.65 813.6 501.4C812.18 505.15 810.58 509.83 810.4 514.3C810.22 518.77 810.9 524.1 812.5 528.2C814.1 532.3 816.97 536.4 820 538.9C823.03 541.4 827.13 543.02 830.7 543.2C834.27 543.38 838.62 542.13 841.4 540C844.18 537.87 846.87 533.62 847.4 530.4C847.93 527.18 846.48 522.85 844.6 520.7C842.72 518.55 838.42 517.13 836.1 517.5C833.78 517.87 831.42 520.75 830.7 522.9C829.98 525.05 831.3 528.68 831.8 530.4C832.3 532.12 833.38 532.73 833.7 533.2" stroke="#fff" stroke-width="3.7"/>
</g>
<line x1="856.86" y1="447.9" x2="862.55" y2="446.9" stroke="#111" stroke-width="0.85"/>
<line x1="845.76" y1="460.1" x2="852.22" y2="459.1" stroke="#111" stroke-width="0.85"/>
<line x1="834.84" y1="469.9" x2="841.73" y2="468.9" stroke="#111" stroke-width="0.85"/>
<line x1="825.2" y1="480.2" x2="831.33" y2="479.2" stroke="#111" stroke-width="0.85"/>
<line x1="815.28" y1="493.7" x2="820.74" y2="492.7" stroke="#111" stroke-width="0.85"/>
<rect x="772.3" y="562" width="119.2" height="60.3" fill="none" stroke="#333" stroke-width="1"/>
<text x="777.2" y="588.9" font-size="22" textLength="111.2" lengthAdjust="spacingAndGlyphs" font-family='"DejaVu Serif", "Liberation Serif", serif'>Florence</text>
<text x="787" y="613" font-size="22" textLength="90.6" lengthAdjust="spacingAndGlyphs" font-family='"DejaVu Serif", "Liberation Serif", serif'>twisted</text>
<text x="938.25" y="403.2" font-size="9.76" textLength="52.51" lengthAdjust="spacingAndGlyphs">1 3/4" x 3/4"</text>
<text x="946.25" y="415.7" font-size="9.71" textLength="43.71" lengthAdjust="spacingAndGlyphs">Door Stop</text>
<path d="M992.7 401H1003.5L1026.5 435.5" fill="none" stroke="#000" stroke-width="0.9"/>
<polygon points="1027.8,437.4 1022.11,431.58 1024.61,429.91" fill="#000"/>
<path d="M982.5 485.7V423.5C987 421.5 991 420.3 996 420.3C1008 420.3 1016 426.3 1027.5 426.3C1036 426.3 1042 420.5 1050 420.5C1057 420.5 1062 423 1068 424" fill="none" stroke="#000" stroke-width="0.9"/>
<path d="M982.5 475.5C987 473.5 991 472.3 996 472.3C1008 472.3 1016 477.7 1027.5 477.7C1036 477.7 1042 472 1050 472C1057 472 1062 474.5 1068 475.5" fill="none" stroke="#000" stroke-width="0.9"/>
<line x1="1021.2" y1="425.8" x2="1021.2" y2="477.3" stroke="#000" stroke-width="0.9"/>
<line x1="1043.5" y1="422" x2="1043.5" y2="473.5" stroke="#000" stroke-width="0.9"/>
<line x1="1068" y1="410.7" x2="1068" y2="485.7" stroke="#000" stroke-width="0.9"/>
<line x1="982.5" y1="483.5" x2="1020.7" y2="483.5" stroke="#000" stroke-width="0.9"/>
<line x1="1030" y1="483.5" x2="1068" y2="483.5" stroke="#000" stroke-width="0.9"/>
<text x="1021" y="486.5" font-size="8.4">5"</text>
<text x="1023.45" y="416.7" font-size="9.31" textLength="24.01" lengthAdjust="spacingAndGlyphs">1 1/2"</text>
<line x1="1047.7" y1="412.2" x2="1068" y2="412.2" stroke="#000" stroke-width="0.9"/>
<line x1="1048.5" y1="410.7" x2="1048.5" y2="449.4" stroke="#000" stroke-width="0.9"/>
<circle cx="1048.5" cy="449.4" r="4.2" fill="#fff" stroke="#000" stroke-width="0.9"/>
<circle cx="1048.5" cy="449.4" r="0.8" fill="#000" stroke="none" stroke-width="0"/>
<line x1="1052.2" y1="446.9" x2="1075.1" y2="432.7" stroke="#000" stroke-width="0.9"/>
<text x="1075.74" y="436.5" font-size="9.53" textLength="24.06" lengthAdjust="spacingAndGlyphs" transform="rotate(-32 1075.74 436.5)">Ø5/8"</text>
<text x="978.46" y="525.3" font-size="8.82" textLength="22.26" lengthAdjust="spacingAndGlyphs">Ø1/4"</text>
<text x="971.06" y="540.5" font-size="8.98" textLength="22.66" lengthAdjust="spacingAndGlyphs">Ø5/8"</text>
<text x="968.47" y="568.7" font-size="8.11" textLength="20.91" lengthAdjust="spacingAndGlyphs">1 1/2"</text>
<text x="1041.42" y="529.7" font-size="10.27" textLength="33.12" lengthAdjust="spacingAndGlyphs">outside</text>
<text x="969.42" y="612.5" font-size="10.3" textLength="26.92" lengthAdjust="spacingAndGlyphs">inside</text>
<text x="947.2" y="629.2" font-size="10.23" textLength="140.4" lengthAdjust="spacingAndGlyphs">Std. Preparation for Installation</text>
<path d="M1008 612V534.2L1022.2 526.7L1063.3 550V564.2C1062 569.5 1056 572 1050 571.7" fill="none" stroke="#000" stroke-width="0.9" stroke-linejoin="round"/>
<path d="M1008 534.2L1049.7 557.5V571.7" fill="none" stroke="#000" stroke-width="0.9"/>
<line x1="1022.2" y1="526.7" x2="1022.2" y2="566.7" stroke="#000" stroke-width="0.9"/>
<line x1="989.5" y1="566.7" x2="1022.2" y2="566.7" stroke="#000" stroke-width="0.9"/>
<path d="M1050 572C1048.88 572.63 1045.52 574.6 1043.3 575.8C1041.08 577 1038.13 577.67 1036.7 579.2C1035.27 580.73 1035.12 583.07 1034.7 585C1034.28 586.93 1035.27 589.27 1034.2 590.8C1033.13 592.33 1030.38 593.08 1028.3 594.2C1026.22 595.32 1023.22 596.12 1021.7 597.5C1020.18 598.88 1019.9 600.97 1019.2 602.5C1018.5 604.03 1018.48 605.5 1017.5 606.7C1016.52 607.9 1014.88 608.87 1013.3 609.7C1011.72 610.53 1008.88 611.37 1008 611.7" fill="none" stroke="#000" stroke-width="0.9"/>
<path d="M1050 572C1050.05 573.05 1050.85 576.27 1050.3 578.3C1049.75 580.33 1048.42 582.53 1046.7 584.2C1044.98 585.87 1042.08 587.12 1040 588.3C1037.92 589.48 1035.25 589.9 1034.2 591.3C1033.15 592.7 1034.4 595.12 1033.7 596.7C1033 598.28 1031.58 599.63 1030 600.8C1028.42 601.97 1026.12 602.67 1024.2 603.7C1022.28 604.73 1019.45 606.45 1018.5 607" fill="none" stroke="#000" stroke-width="0.9"/>
<ellipse cx="1035" cy="541.7" rx="2.6" ry="3.4" fill="#fff" stroke="#000" stroke-width="0.9" transform="rotate(-30 1035 541.7)"/>
<ellipse cx="1022.2" cy="550.6" rx="2.6" ry="3.6" fill="#fff" stroke="#000" stroke-width="0.9" transform="rotate(-30 1022.2 550.6)"/>
<path d="M1002.8 522.5H1011.7L1031.5 538.5" fill="none" stroke="#000" stroke-width="0.9"/>
<polygon points="1033,539.8 1028.39,537.52 1029.93,535.68" fill="#000"/>
<path d="M995 537.5H1005.8L1019 547.5" fill="none" stroke="#000" stroke-width="0.9"/>
<polygon points="1020.3,548.6 1015.69,546.32 1017.23,544.48" fill="#000"/>
</g>
<g id="scroll" stroke-linecap="round" stroke-linejoin="round" fill="none">
<path d="M414.6 146C414.87 146.98 414.95 149.73 416.2 151.9C417.45 154.07 419.52 157.02 422.1 159C424.68 160.98 428.32 162.9 431.7 163.8C435.08 164.7 439.23 164.9 442.4 164.4C445.57 163.9 448.52 162.48 450.7 160.8C452.88 159.12 455 156.48 455.5 154.3C456 152.12 454.9 149.28 453.7 147.7C452.5 146.12 450.08 145 448.3 144.8C446.52 144.6 444.18 145.42 443 146.5C441.82 147.58 440.9 150 441.2 151.3C441.5 152.6 443.57 154.18 444.8 154.3C446.03 154.42 447.97 152.38 448.6 152" stroke="#111" stroke-width="3.7"/>
<path d="M414.6 146C414.87 146.98 414.95 149.73 416.2 151.9C417.45 154.07 419.52 157.02 422.1 159C424.68 160.98 428.32 162.9 431.7 163.8C435.08 164.7 439.23 164.9 442.4 164.4C445.57 163.9 448.52 162.48 450.7 160.8C452.88 159.12 455 156.48 455.5 154.3C456 152.12 454.9 149.28 453.7 147.7C452.5 146.12 450.08 145 448.3 144.8C446.52 144.6 444.18 145.42 443 146.5C441.82 147.58 440.9 150 441.2 151.3C441.5 152.6 443.57 154.18 444.8 154.3C446.03 154.42 447.97 152.38 448.6 152" stroke="#fff" stroke-width="1.75"/>
<path d="M448.6 152L446.2 153.45" stroke="#111" stroke-width="1.7"/>
<path d="M395.9 162C396.5 162.4 398.1 164.2 399.5 164.4C400.9 164.6 402.9 164.28 404.3 163.2C405.7 162.12 407.5 159.98 407.9 157.9C408.3 155.82 407.9 152.68 406.7 150.7C405.5 148.72 403.08 146.88 400.7 146C398.32 145.12 394.98 144.82 392.4 145.4C389.82 145.98 386.98 147.42 385.2 149.5C383.42 151.58 382.08 154.92 381.7 157.9C381.32 160.88 381.72 164.03 382.9 167.4C384.08 170.77 386.43 174.53 388.8 178.1C391.17 181.67 394.32 185.23 397.1 188.8C399.88 192.37 403.22 195.93 405.5 199.5C407.78 203.07 409.72 206.62 410.8 210.2C411.88 213.78 412.3 217.62 412 221C411.7 224.38 410.48 227.73 409 230.5C407.52 233.27 405.72 235.47 403.1 237.6C400.48 239.73 396.87 242.35 393.3 243.3C389.73 244.25 385.03 244.4 381.7 243.3C378.37 242.2 374.97 239.2 373.3 236.7C371.63 234.2 371.42 231.08 371.7 228.3C371.98 225.52 373.07 222.08 375 220C376.93 217.92 380.8 215.8 383.3 215.8C385.8 215.8 388.62 218.22 390 220C391.38 221.78 391.33 225.42 391.6 226.5" stroke="#111" stroke-width="3.7"/>
<path d="M395.9 162C396.5 162.4 398.1 164.2 399.5 164.4C400.9 164.6 402.9 164.28 404.3 163.2C405.7 162.12 407.5 159.98 407.9 157.9C408.3 155.82 407.9 152.68 406.7 150.7C405.5 148.72 403.08 146.88 400.7 146C398.32 145.12 394.98 144.82 392.4 145.4C389.82 145.98 386.98 147.42 385.2 149.5C383.42 151.58 382.08 154.92 381.7 157.9C381.32 160.88 381.72 164.03 382.9 167.4C384.08 170.77 386.43 174.53 388.8 178.1C391.17 181.67 394.32 185.23 397.1 188.8C399.88 192.37 403.22 195.93 405.5 199.5C407.78 203.07 409.72 206.62 410.8 210.2C411.88 213.78 412.3 217.62 412 221C411.7 224.38 410.48 227.73 409 230.5C407.52 233.27 405.72 235.47 403.1 237.6C400.48 239.73 396.87 242.35 393.3 243.3C389.73 244.25 385.03 244.4 381.7 243.3C378.37 242.2 374.97 239.2 373.3 236.7C371.63 234.2 371.42 231.08 371.7 228.3C371.98 225.52 373.07 222.08 375 220C376.93 217.92 380.8 215.8 383.3 215.8C385.8 215.8 388.62 218.22 390 220C391.38 221.78 391.33 225.42 391.6 226.5" stroke="#fff" stroke-width="1.75"/>
<path d="M395.9 162L398.23 163.55" stroke="#111" stroke-width="1.7"/>
<path d="M391.6 226.5L390.93 223.78" stroke="#111" stroke-width="1.7"/>
<path d="M416.2 178.1C415.3 178.3 412.48 179.9 410.8 179.3C409.12 178.7 406.98 176.38 406.1 174.5C405.22 172.62 404.92 169.88 405.5 168C406.08 166.12 407.62 164.2 409.6 163.2C411.58 162.2 414.72 161.6 417.4 162C420.08 162.4 423.42 163.72 425.7 165.6C427.98 167.48 430.4 170.62 431.1 173.3C431.8 175.98 431 179.32 429.9 181.7C428.8 184.08 426.58 186.02 424.5 187.6C422.42 189.18 419.28 189.42 417.4 191.2C415.52 192.98 414 195.92 413.2 198.3C412.4 200.68 412.1 203.12 412.6 205.5C413.1 207.88 414.62 211.12 416.2 212.6C417.78 214.08 420.32 214.6 422.1 214.4C423.88 214.2 425.93 212.58 426.9 211.4C427.87 210.22 427.73 207.98 427.9 207.3" stroke="#111" stroke-width="3.7"/>
<path d="M416.2 178.1C415.3 178.3 412.48 179.9 410.8 179.3C409.12 178.7 406.98 176.38 406.1 174.5C405.22 172.62 404.92 169.88 405.5 168C406.08 166.12 407.62 164.2 409.6 163.2C411.58 162.2 414.72 161.6 417.4 162C420.08 162.4 423.42 163.72 425.7 165.6C427.98 167.48 430.4 170.62 431.1 173.3C431.8 175.98 431 179.32 429.9 181.7C428.8 184.08 426.58 186.02 424.5 187.6C422.42 189.18 419.28 189.42 417.4 191.2C415.52 192.98 414 195.92 413.2 198.3C412.4 200.68 412.1 203.12 412.6 205.5C413.1 207.88 414.62 211.12 416.2 212.6C417.78 214.08 420.32 214.6 422.1 214.4C423.88 214.2 425.93 212.58 426.9 211.4C427.87 210.22 427.73 207.98 427.9 207.3" stroke="#fff" stroke-width="1.75"/>
<path d="M416.2 178.1L413.47 178.71" stroke="#111" stroke-width="1.7"/>
<path d="M427.9 207.3L427.24 210.02" stroke="#111" stroke-width="1.7"/>
<path d="M426.9 188.8C428.28 189.4 432.82 190.42 435.2 192.4C437.58 194.38 439.6 197.53 441.2 200.7C442.8 203.87 444.05 207.63 444.8 211.4C445.55 215.17 445.9 219.33 445.7 223.3C445.5 227.27 444.55 232.25 443.6 235.2C442.65 238.15 441.77 239.2 440 241C438.23 242.8 435.5 245 433 246C430.5 247 427.25 247.5 425 247C422.75 246.5 420.67 244.67 419.5 243C418.33 241.33 417.75 238.75 418 237C418.25 235.25 419.67 233.25 421 232.5C422.33 231.75 424.83 231.92 426 232.5C427.17 233.08 428 234.83 428 236C428 237.17 426.33 238.92 426 239.5" stroke="#111" stroke-width="3.7"/>
<path d="M426.9 188.8C428.28 189.4 432.82 190.42 435.2 192.4C437.58 194.38 439.6 197.53 441.2 200.7C442.8 203.87 444.05 207.63 444.8 211.4C445.55 215.17 445.9 219.33 445.7 223.3C445.5 227.27 444.55 232.25 443.6 235.2C442.65 238.15 441.77 239.2 440 241C438.23 242.8 435.5 245 433 246C430.5 247 427.25 247.5 425 247C422.75 246.5 420.67 244.67 419.5 243C418.33 241.33 417.75 238.75 418 237C418.25 235.25 419.67 233.25 421 232.5C422.33 231.75 424.83 231.92 426 232.5C427.17 233.08 428 234.83 428 236C428 237.17 426.33 238.92 426 239.5" stroke="#fff" stroke-width="1.75"/>
<path d="M426 239.5L427.39 237.07" stroke="#111" stroke-width="1.7"/>
<path d="M460.2 179.3C461 179.7 463.2 181.7 465 181.7C466.8 181.7 469.52 180.9 471 179.3C472.48 177.7 473.9 174.48 473.9 172.1C473.9 169.72 472.68 166.68 471 165C469.32 163.32 466.38 162.3 463.8 162C461.22 161.7 458.08 162.2 455.5 163.2C452.92 164.2 449.98 165.92 448.3 168C446.62 170.08 445.6 173.03 445.4 175.7C445.2 178.37 445.82 181.22 447.1 184C448.38 186.78 450.52 189.82 453.1 192.4C455.68 194.98 459.62 197.32 462.6 199.5C465.58 201.68 468.92 203.32 471 205.5C473.08 207.68 474.62 210.22 475.1 212.6C475.58 214.98 474.98 218.02 473.9 219.8C472.82 221.58 470.48 223.1 468.6 223.3C466.72 223.5 463.9 222.18 462.6 221C461.3 219.82 460.6 217.7 460.8 216.2C461 214.7 462.6 212.5 463.8 212C465 211.5 467.38 212.45 468 213.2C468.62 213.95 467.58 215.95 467.5 216.5" stroke="#111" stroke-width="3.7"/>
<path d="M460.2 179.3C461 179.7 463.2 181.7 465 181.7C466.8 181.7 469.52 180.9 471 179.3C472.48 177.7 473.9 174.48 473.9 172.1C473.9 169.72 472.68 166.68 471 165C469.32 163.32 466.38 162.3 463.8 162C461.22 161.7 458.08 162.2 455.5 163.2C452.92 164.2 449.98 165.92 448.3 168C446.62 170.08 445.6 173.03 445.4 175.7C445.2 178.37 445.82 181.22 447.1 184C448.38 186.78 450.52 189.82 453.1 192.4C455.68 194.98 459.62 197.32 462.6 199.5C465.58 201.68 468.92 203.32 471 205.5C473.08 207.68 474.62 210.22 475.1 212.6C475.58 214.98 474.98 218.02 473.9 219.8C472.82 221.58 470.48 223.1 468.6 223.3C466.72 223.5 463.9 222.18 462.6 221C461.3 219.82 460.6 217.7 460.8 216.2C461 214.7 462.6 212.5 463.8 212C465 211.5 467.38 212.45 468 213.2C468.62 213.95 467.58 215.95 467.5 216.5" stroke="#fff" stroke-width="1.75"/>
<path d="M460.2 179.3L462.7 180.55" stroke="#111" stroke-width="1.7"/>
<path d="M467.5 216.5L467.92 213.73" stroke="#111" stroke-width="1.7"/>
<path d="M460.2 201.9C459.02 202.7 455.08 204.32 453.1 206.7C451.12 209.08 449.1 212.83 448.3 216.2C447.5 219.57 447.5 223.53 448.3 226.9C449.1 230.27 451.48 234.05 453.1 236.4C454.72 238.75 456.22 239.68 458 241C459.78 242.32 461.45 243.15 463.8 244.3C466.15 245.45 470.02 246.52 472.1 247.9C474.18 249.28 475.9 251.02 476.3 252.6C476.7 254.18 475.58 256.47 474.5 257.4C473.42 258.33 471.03 258.7 469.8 258.2C468.57 257.7 467.1 255.53 467.1 254.4C467.1 253.27 468.97 251.5 469.8 251.4C470.63 251.3 471.72 253.4 472.1 253.8" stroke="#111" stroke-width="3.7"/>
<path d="M460.2 201.9C459.02 202.7 455.08 204.32 453.1 206.7C451.12 209.08 449.1 212.83 448.3 216.2C447.5 219.57 447.5 223.53 448.3 226.9C449.1 230.27 451.48 234.05 453.1 236.4C454.72 238.75 456.22 239.68 458 241C459.78 242.32 461.45 243.15 463.8 244.3C466.15 245.45 470.02 246.52 472.1 247.9C474.18 249.28 475.9 251.02 476.3 252.6C476.7 254.18 475.58 256.47 474.5 257.4C473.42 258.33 471.03 258.7 469.8 258.2C468.57 257.7 467.1 255.53 467.1 254.4C467.1 253.27 468.97 251.5 469.8 251.4C470.63 251.3 471.72 253.4 472.1 253.8" stroke="#fff" stroke-width="1.75"/>
<path d="M472.1 253.8L470.16 251.78" stroke="#111" stroke-width="1.7"/>
<path d="M386.4 263.3C387.8 264 391.42 266.4 394.8 267.5C398.18 268.6 402.73 269.3 406.7 269.9C410.67 270.5 414.83 270.22 418.6 271.1C422.37 271.98 426.33 273.32 429.3 275.2C432.27 277.08 434.62 279.62 436.4 282.4C438.18 285.18 439.3 289.22 440 291.9C440.7 294.58 440.5 297.4 440.6 298.5" stroke="#111" stroke-width="3.7"/>
<path d="M386.4 263.3C387.8 264 391.42 266.4 394.8 267.5C398.18 268.6 402.73 269.3 406.7 269.9C410.67 270.5 414.83 270.22 418.6 271.1C422.37 271.98 426.33 273.32 429.3 275.2C432.27 277.08 434.62 279.62 436.4 282.4C438.18 285.18 439.3 289.22 440 291.9C440.7 294.58 440.5 297.4 440.6 298.5" stroke="#fff" stroke-width="1.75"/>
<path d="M386.4 262.7C387.3 263.1 390.02 265.2 391.8 265.1C393.58 265 395.82 263.58 397.1 262.1C398.38 260.62 399.68 258.18 399.5 256.2C399.32 254.22 397.78 251.68 396 250.2C394.22 248.72 391.18 247.88 388.8 247.3C386.42 246.72 383.98 246.32 381.7 246.7C379.42 247.08 376.7 248.02 375.1 249.6C373.5 251.18 372.6 253.72 372.1 256.2C371.6 258.68 371.5 261.53 372.1 264.5C372.7 267.47 373.72 270.82 375.7 274C377.68 277.18 380.82 280.42 384 283.6C387.18 286.78 391.42 289.93 394.8 293.1C398.18 296.27 401.73 299.23 404.3 302.6C406.87 305.97 408.92 309.92 410.2 313.3C411.48 316.68 411.9 320.6 412 322.9C412.1 325.2 411.68 325 410.8 327.1C409.92 329.2 408.58 333.12 406.7 335.5C404.82 337.88 402.28 340.02 399.5 341.4C396.72 342.78 393.17 343.7 390 343.8C386.83 343.9 383.28 343.18 380.5 342C377.72 340.82 374.85 338.98 373.3 336.7C371.75 334.42 371 330.78 371.2 328.3C371.4 325.82 372.75 323.28 374.5 321.8C376.25 320.32 379.42 319.4 381.7 319.4C383.98 319.4 386.72 320.62 388.2 321.8C389.68 322.98 390.2 325.72 390.6 326.5" stroke="#111" stroke-width="3.7"/>
<path d="M386.4 262.7C387.3 263.1 390.02 265.2 391.8 265.1C393.58 265 395.82 263.58 397.1 262.1C398.38 260.62 399.68 258.18 399.5 256.2C399.32 254.22 397.78 251.68 396 250.2C394.22 248.72 391.18 247.88 388.8 247.3C386.42 246.72 383.98 246.32 381.7 246.7C379.42 247.08 376.7 248.02 375.1 249.6C373.5 251.18 372.6 253.72 372.1 256.2C371.6 258.68 371.5 261.53 372.1 264.5C372.7 267.47 373.72 270.82 375.7 274C377.68 277.18 380.82 280.42 384 283.6C387.18 286.78 391.42 289.93 394.8 293.1C398.18 296.27 401.73 299.23 404.3 302.6C406.87 305.97 408.92 309.92 410.2 313.3C411.48 316.68 411.9 320.6 412 322.9C412.1 325.2 411.68 325 410.8 327.1C409.92 329.2 408.58 333.12 406.7 335.5C404.82 337.88 402.28 340.02 399.5 341.4C396.72 342.78 393.17 343.7 390 343.8C386.83 343.9 383.28 343.18 380.5 342C377.72 340.82 374.85 338.98 373.3 336.7C371.75 334.42 371 330.78 371.2 328.3C371.4 325.82 372.75 323.28 374.5 321.8C376.25 320.32 379.42 319.4 381.7 319.4C383.98 319.4 386.72 320.62 388.2 321.8C389.68 322.98 390.2 325.72 390.6 326.5" stroke="#fff" stroke-width="1.75"/>
<path d="M386.4 262.7L388.96 263.84" stroke="#111" stroke-width="1.7"/>
<path d="M390.6 326.5L389.33 324.01" stroke="#111" stroke-width="1.7"/>
<path d="M400.7 281.2C401 281.8 402.6 283.62 402.5 284.8C402.4 285.98 401.28 287.82 400.1 288.3C398.92 288.78 396.68 288.48 395.4 287.7C394.12 286.92 392.7 285.28 392.4 283.6C392.1 281.92 392.62 279.2 393.6 277.6C394.58 276 396.52 274.5 398.3 274C400.08 273.5 402.42 273.8 404.3 274.6C406.18 275.4 408.22 277.1 409.6 278.8C410.98 280.5 411.7 283.02 412.6 284.8C413.5 286.58 414.7 287.82 415 289.5C415.3 291.18 414.4 293.02 414.4 294.9C414.4 296.78 414.3 299.02 415 300.8C415.7 302.58 417.02 304.4 418.6 305.6C420.18 306.8 422.62 307.5 424.5 308C426.38 308.5 429 308.5 429.9 308.6" stroke="#111" stroke-width="3.7"/>
<path d="M400.7 281.2C401 281.8 402.6 283.62 402.5 284.8C402.4 285.98 401.28 287.82 400.1 288.3C398.92 288.78 396.68 288.48 395.4 287.7C394.12 286.92 392.7 285.28 392.4 283.6C392.1 281.92 392.62 279.2 393.6 277.6C394.58 276 396.52 274.5 398.3 274C400.08 273.5 402.42 273.8 404.3 274.6C406.18 275.4 408.22 277.1 409.6 278.8C410.98 280.5 411.7 283.02 412.6 284.8C413.5 286.58 414.7 287.82 415 289.5C415.3 291.18 414.4 293.02 414.4 294.9C414.4 296.78 414.3 299.02 415 300.8C415.7 302.58 417.02 304.4 418.6 305.6C420.18 306.8 422.62 307.5 424.5 308C426.38 308.5 429 308.5 429.9 308.6" stroke="#fff" stroke-width="1.75"/>
<path d="M400.7 281.2L401.95 283.7" stroke="#111" stroke-width="1.7"/>
<path d="M444.2 261.5C443.9 262.3 443.7 265.17 442.4 266.3C441.1 267.43 438.43 268.5 436.4 268.3C434.37 268.1 431.75 266.92 430.2 265.1C428.65 263.28 427.25 259.88 427.1 257.4C426.95 254.92 427.95 252.08 429.3 250.2C430.65 248.32 432.42 246.68 435.2 246.1C437.98 245.52 442.82 245.62 446 246.7C449.18 247.78 452.08 250.03 454.3 252.6C456.52 255.17 458.32 258.72 459.3 262.1C460.28 265.48 460.63 269.32 460.2 272.9C459.77 276.48 458.48 280.43 456.7 283.6C454.92 286.77 452.08 289.33 449.5 291.9C446.92 294.47 444.17 296.52 441.2 299C438.23 301.48 434.88 304.12 431.7 306.8C428.52 309.48 424.68 312.42 422.1 315.1C419.52 317.78 417.38 320.9 416.2 322.9C415.02 324.9 415.9 324.8 415 327.1C414.1 329.4 411.75 333.12 410.8 336.7C409.85 340.28 408.9 344.73 409.3 348.6C409.7 352.47 411.07 356.87 413.2 359.9C415.33 362.93 418.82 365.57 422.1 366.8C425.38 368.03 429.72 368.12 432.9 367.3C436.08 366.48 439.28 364.23 441.2 361.9C443.12 359.57 444.37 356.02 444.4 353.3C444.43 350.58 443.08 347.38 441.4 345.6C439.72 343.82 436.48 342.5 434.3 342.6C432.12 342.7 429.53 344.72 428.3 346.2C427.07 347.68 427.13 350.62 426.9 351.5" stroke="#111" stroke-width="3.7"/>
<path d="M444.2 261.5C443.9 262.3 443.7 265.17 442.4 266.3C441.1 267.43 438.43 268.5 436.4 268.3C434.37 268.1 431.75 266.92 430.2 265.1C428.65 263.28 427.25 259.88 427.1 257.4C426.95 254.92 427.95 252.08 429.3 250.2C430.65 248.32 432.42 246.68 435.2 246.1C437.98 245.52 442.82 245.62 446 246.7C449.18 247.78 452.08 250.03 454.3 252.6C456.52 255.17 458.32 258.72 459.3 262.1C460.28 265.48 460.63 269.32 460.2 272.9C459.77 276.48 458.48 280.43 456.7 283.6C454.92 286.77 452.08 289.33 449.5 291.9C446.92 294.47 444.17 296.52 441.2 299C438.23 301.48 434.88 304.12 431.7 306.8C428.52 309.48 424.68 312.42 422.1 315.1C419.52 317.78 417.38 320.9 416.2 322.9C415.02 324.9 415.9 324.8 415 327.1C414.1 329.4 411.75 333.12 410.8 336.7C409.85 340.28 408.9 344.73 409.3 348.6C409.7 352.47 411.07 356.87 413.2 359.9C415.33 362.93 418.82 365.57 422.1 366.8C425.38 368.03 429.72 368.12 432.9 367.3C436.08 366.48 439.28 364.23 441.2 361.9C443.12 359.57 444.37 356.02 444.4 353.3C444.43 350.58 443.08 347.38 441.4 345.6C439.72 343.82 436.48 342.5 434.3 342.6C432.12 342.7 429.53 344.72 428.3 346.2C427.07 347.68 427.13 350.62 426.9 351.5" stroke="#fff" stroke-width="1.75"/>
<path d="M444.2 261.5L443.22 264.12" stroke="#111" stroke-width="1.7"/>
<path d="M426.9 351.5L427.62 348.79" stroke="#111" stroke-width="1.7"/>
<path d="M446.2 312.9C446.03 312.38 445.88 310.55 445.2 309.8C444.52 309.05 443.23 308.37 442.1 308.4C440.97 308.43 439.25 309.05 438.4 310C437.55 310.95 436.9 312.27 437 314.1C437.1 315.93 437.63 319.48 439 321C440.37 322.52 443.15 323.22 445.2 323.2C447.25 323.18 449.63 322.23 451.3 320.9C452.97 319.57 454.42 317.12 455.2 315.2C455.98 313.28 456.1 311.27 456 309.4C455.9 307.53 455.03 305.68 454.6 304C454.17 302.32 453.47 300.85 453.4 299.3C453.33 297.75 453.57 296.12 454.2 294.7C454.83 293.28 455.68 291.77 457.2 290.8C458.72 289.83 461.25 288.9 463.3 288.9C465.35 288.9 467.82 289.57 469.5 290.8C471.18 292.03 472.62 294.23 473.4 296.3C474.18 298.37 474.45 300.88 474.2 303.2C473.95 305.52 473.2 308 471.9 310.2C470.6 312.4 468.35 314.33 466.4 316.4C464.45 318.47 462.25 320.42 460.2 322.6C458.15 324.78 455.83 326.95 454.1 329.5C452.37 332.05 450.97 334.92 449.8 337.9C448.63 340.88 447.65 344.43 447.1 347.4C446.55 350.37 446.85 353.42 446.5 355.7C446.15 357.98 445.25 360.2 445 361.1" stroke="#111" stroke-width="3.7"/>
<path d="M446.2 312.9C446.03 312.38 445.88 310.55 445.2 309.8C444.52 309.05 443.23 308.37 442.1 308.4C440.97 308.43 439.25 309.05 438.4 310C437.55 310.95 436.9 312.27 437 314.1C437.1 315.93 437.63 319.48 439 321C440.37 322.52 443.15 323.22 445.2 323.2C447.25 323.18 449.63 322.23 451.3 320.9C452.97 319.57 454.42 317.12 455.2 315.2C455.98 313.28 456.1 311.27 456 309.4C455.9 307.53 455.03 305.68 454.6 304C454.17 302.32 453.47 300.85 453.4 299.3C453.33 297.75 453.57 296.12 454.2 294.7C454.83 293.28 455.68 291.77 457.2 290.8C458.72 289.83 461.25 288.9 463.3 288.9C465.35 288.9 467.82 289.57 469.5 290.8C471.18 292.03 472.62 294.23 473.4 296.3C474.18 298.37 474.45 300.88 474.2 303.2C473.95 305.52 473.2 308 471.9 310.2C470.6 312.4 468.35 314.33 466.4 316.4C464.45 318.47 462.25 320.42 460.2 322.6C458.15 324.78 455.83 326.95 454.1 329.5C452.37 332.05 450.97 334.92 449.8 337.9C448.63 340.88 447.65 344.43 447.1 347.4C446.55 350.37 446.85 353.42 446.5 355.7C446.15 357.98 445.25 360.2 445 361.1" stroke="#fff" stroke-width="1.75"/>
<path d="M446.2 312.9L445.34 310.24" stroke="#111" stroke-width="1.7"/>
<path d="M462.2 296.6C462.55 297.22 464.3 299.1 464.3 300.3C464.3 301.5 463.2 303.08 462.2 303.8C461.2 304.52 459.37 304.25 458.3 304.6C457.23 304.95 456.22 305.68 455.8 305.9" stroke="#111" stroke-width="3.7"/>
<path d="M462.2 296.6C462.55 297.22 464.3 299.1 464.3 300.3C464.3 301.5 463.2 303.08 462.2 303.8C461.2 304.52 459.37 304.25 458.3 304.6C457.23 304.95 456.22 305.68 455.8 305.9" stroke="#fff" stroke-width="1.75"/>
<path d="M462.2 296.6L463.58 299.04" stroke="#111" stroke-width="1.7"/>
<path d="M379.9 304.4C379.6 305 379.1 307.5 378.1 308C377.1 308.5 374.9 308.2 373.9 307.4C372.9 306.6 371.9 304.6 372.1 303.2C372.3 301.8 373.7 299.78 375.1 299C376.5 298.22 378.82 297.9 380.5 298.5C382.18 299.1 384.32 300.72 385.2 302.6C386.08 304.48 385.92 307.73 385.8 309.8C385.68 311.87 384.2 313.38 384.5 315C384.8 316.62 386.6 318 387.6 319.5C388.6 321 390.02 323.25 390.5 324" stroke="#111" stroke-width="3.7"/>
<path d="M379.9 304.4C379.6 305 379.1 307.5 378.1 308C377.1 308.5 374.9 308.2 373.9 307.4C372.9 306.6 371.9 304.6 372.1 303.2C372.3 301.8 373.7 299.78 375.1 299C376.5 298.22 378.82 297.9 380.5 298.5C382.18 299.1 384.32 300.72 385.2 302.6C386.08 304.48 385.92 307.73 385.8 309.8C385.68 311.87 384.2 313.38 384.5 315C384.8 316.62 386.6 318 387.6 319.5C388.6 321 390.02 323.25 390.5 324" stroke="#fff" stroke-width="1.75"/>
<path d="M379.9 304.4L378.65 306.9" stroke="#111" stroke-width="1.7"/>
<path d="M388.8 364C388.4 364.83 387.78 367.87 386.4 369C385.02 370.13 382.58 371.18 380.5 370.8C378.42 370.42 375.4 368.72 373.9 366.7C372.4 364.68 371.3 361.37 371.5 358.7C371.7 356.03 373.2 352.68 375.1 350.7C377 348.72 379.82 347.4 382.9 346.8C385.98 346.2 390.83 346.02 393.6 347.1C396.37 348.18 397.88 350.67 399.5 353.3C401.12 355.93 402.6 359.52 403.3 362.9C404 366.28 404.13 370.03 403.7 373.6C403.27 377.17 401.95 380.93 400.7 384.3C399.45 387.67 397.98 391.02 396.2 393.8C394.42 396.58 392.22 399.57 390 401C387.78 402.43 384.82 402.97 382.9 402.4C380.98 401.83 379.1 399.43 378.5 397.6C377.9 395.77 378.38 392.87 379.3 391.4C380.22 389.93 382.57 388.63 384 388.8C385.43 388.97 387.5 391.17 387.9 392.4C388.3 393.63 386.65 395.57 386.4 396.2" stroke="#111" stroke-width="3.7"/>
<path d="M388.8 364C388.4 364.83 387.78 367.87 386.4 369C385.02 370.13 382.58 371.18 380.5 370.8C378.42 370.42 375.4 368.72 373.9 366.7C372.4 364.68 371.3 361.37 371.5 358.7C371.7 356.03 373.2 352.68 375.1 350.7C377 348.72 379.82 347.4 382.9 346.8C385.98 346.2 390.83 346.02 393.6 347.1C396.37 348.18 397.88 350.67 399.5 353.3C401.12 355.93 402.6 359.52 403.3 362.9C404 366.28 404.13 370.03 403.7 373.6C403.27 377.17 401.95 380.93 400.7 384.3C399.45 387.67 397.98 391.02 396.2 393.8C394.42 396.58 392.22 399.57 390 401C387.78 402.43 384.82 402.97 382.9 402.4C380.98 401.83 379.1 399.43 378.5 397.6C377.9 395.77 378.38 392.87 379.3 391.4C380.22 389.93 382.57 388.63 384 388.8C385.43 388.97 387.5 391.17 387.9 392.4C388.3 393.63 386.65 395.57 386.4 396.2" stroke="#fff" stroke-width="1.75"/>
<path d="M388.8 364L387.59 366.52" stroke="#111" stroke-width="1.7"/>
<path d="M386.4 396.2L387.43 393.6" stroke="#111" stroke-width="1.7"/>
<path d="M421.5 387.3C422 388.03 422.97 390.77 424.5 391.7C426.03 392.63 428.67 393.43 430.7 392.9C432.73 392.37 435.38 390.53 436.7 388.5C438.02 386.47 439 383.18 438.6 380.7C438.2 378.22 436.45 375.15 434.3 373.6C432.15 372.05 428.52 371.37 425.7 371.4C422.88 371.43 419.88 372.35 417.4 373.8C414.92 375.25 412.55 377.47 410.8 380.1C409.05 382.73 407.88 386.12 406.9 389.6C405.92 393.08 405.13 397.12 404.9 401C404.67 404.88 405.1 409.73 405.5 412.9C405.9 416.07 405.97 415.68 407.3 420C408.63 424.32 411.82 433.27 413.5 438.8C415.18 444.33 416.27 448.62 417.4 453.2C418.53 457.78 419.6 462.15 420.3 466.3C421 470.45 421.53 474.38 421.6 478.1C421.67 481.82 421.52 485.72 420.7 488.6C419.88 491.48 418.33 493.72 416.7 495.4C415.07 497.08 412.85 498.63 410.9 498.7C408.95 498.77 406.32 497.27 405 495.8C403.68 494.33 402.68 491.65 403 489.9C403.32 488.15 405.48 485.85 406.9 485.3C408.32 484.75 410.58 485.72 411.5 486.6C412.42 487.48 412.25 489.93 412.4 490.6" stroke="#111" stroke-width="3.7"/>
<path d="M421.5 387.3C422 388.03 422.97 390.77 424.5 391.7C426.03 392.63 428.67 393.43 430.7 392.9C432.73 392.37 435.38 390.53 436.7 388.5C438.02 386.47 439 383.18 438.6 380.7C438.2 378.22 436.45 375.15 434.3 373.6C432.15 372.05 428.52 371.37 425.7 371.4C422.88 371.43 419.88 372.35 417.4 373.8C414.92 375.25 412.55 377.47 410.8 380.1C409.05 382.73 407.88 386.12 406.9 389.6C405.92 393.08 405.13 397.12 404.9 401C404.67 404.88 405.1 409.73 405.5 412.9C405.9 416.07 405.97 415.68 407.3 420C408.63 424.32 411.82 433.27 413.5 438.8C415.18 444.33 416.27 448.62 417.4 453.2C418.53 457.78 419.6 462.15 420.3 466.3C421 470.45 421.53 474.38 421.6 478.1C421.67 481.82 421.52 485.72 420.7 488.6C419.88 491.48 418.33 493.72 416.7 495.4C415.07 497.08 412.85 498.63 410.9 498.7C408.95 498.77 406.32 497.27 405 495.8C403.68 494.33 402.68 491.65 403 489.9C403.32 488.15 405.48 485.85 406.9 485.3C408.32 484.75 410.58 485.72 411.5 486.6C412.42 487.48 412.25 489.93 412.4 490.6" stroke="#fff" stroke-width="1.75"/>
<path d="M421.5 387.3L423.08 389.61" stroke="#111" stroke-width="1.7"/>
<path d="M412.4 490.6L411.79 487.87" stroke="#111" stroke-width="1.7"/>
<path d="M433.5 393.8C433.22 395.67 432.5 401.35 431.8 405C431.1 408.65 429.83 412.13 429.3 415.7C428.77 419.27 428.37 423.18 428.6 426.4C428.83 429.62 429.52 432.73 430.7 435C431.88 437.27 433.92 438.93 435.7 440C437.48 441.07 439.62 441.52 441.4 441.4C443.18 441.28 445.27 440.37 446.4 439.3C447.53 438.23 448.2 436.55 448.2 435C448.2 433.45 447.28 431.07 446.4 430C445.52 428.93 444 428.45 442.9 428.6C441.8 428.75 440.22 429.65 439.8 430.9C439.38 432.15 440.3 435.23 440.4 436.1" stroke="#111" stroke-width="3.7"/>
<path d="M433.5 393.8C433.22 395.67 432.5 401.35 431.8 405C431.1 408.65 429.83 412.13 429.3 415.7C428.77 419.27 428.37 423.18 428.6 426.4C428.83 429.62 429.52 432.73 430.7 435C431.88 437.27 433.92 438.93 435.7 440C437.48 441.07 439.62 441.52 441.4 441.4C443.18 441.28 445.27 440.37 446.4 439.3C447.53 438.23 448.2 436.55 448.2 435C448.2 433.45 447.28 431.07 446.4 430C445.52 428.93 444 428.45 442.9 428.6C441.8 428.75 440.22 429.65 439.8 430.9C439.38 432.15 440.3 435.23 440.4 436.1" stroke="#fff" stroke-width="1.75"/>
<path d="M440.4 436.1L440.08 433.32" stroke="#111" stroke-width="1.7"/>
<path d="M466.8 339.6C467.1 340.2 467.62 342.7 468.6 343.2C469.58 343.7 471.72 343.48 472.7 342.6C473.68 341.72 474.7 339.58 474.5 337.9C474.3 336.22 472.98 333.6 471.5 332.5C470.02 331.4 467.58 330.8 465.6 331.3C463.62 331.8 460.88 333.62 459.6 335.5C458.32 337.38 457.8 340.22 457.9 342.6C458 344.98 459.27 347.98 460.2 349.8C461.13 351.62 462.95 352.88 463.5 353.5" stroke="#111" stroke-width="3.7"/>
<path d="M466.8 339.6C467.1 340.2 467.62 342.7 468.6 343.2C469.58 343.7 471.72 343.48 472.7 342.6C473.68 341.72 474.7 339.58 474.5 337.9C474.3 336.22 472.98 333.6 471.5 332.5C470.02 331.4 467.58 330.8 465.6 331.3C463.62 331.8 460.88 333.62 459.6 335.5C458.32 337.38 457.8 340.22 457.9 342.6C458 344.98 459.27 347.98 460.2 349.8C461.13 351.62 462.95 352.88 463.5 353.5" stroke="#fff" stroke-width="1.75"/>
<path d="M466.8 339.6L468.05 342.1" stroke="#111" stroke-width="1.7"/>
<path d="M455.5 364.6C456.08 364.42 457.92 363.1 459 363.5C460.08 363.9 461.8 365.62 462 367C462.2 368.38 461.38 370.8 460.2 371.8C459.02 372.8 456.58 373.5 454.9 373C453.22 372.5 451.1 370.68 450.1 368.8C449.1 366.92 448.4 363.88 448.9 361.7C449.4 359.52 451.22 357.03 453.1 355.7C454.98 354.37 458.02 353.9 460.2 353.7C462.38 353.5 464.22 353.57 466.2 354.5C468.18 355.43 470.62 357.12 472.1 359.3C473.58 361.48 474.5 364.23 475.1 367.6C475.7 370.97 475.9 375.53 475.7 379.5C475.5 383.47 474.88 387.63 473.9 391.4C472.92 395.17 471.22 398.58 469.8 402.1C468.38 405.62 466.85 409.45 465.4 412.5C463.95 415.55 461.82 419.08 461.1 420.4" stroke="#111" stroke-width="3.7"/>
<path d="M455.5 364.6C456.08 364.42 457.92 363.1 459 363.5C460.08 363.9 461.8 365.62 462 367C462.2 368.38 461.38 370.8 460.2 371.8C459.02 372.8 456.58 373.5 454.9 373C453.22 372.5 451.1 370.68 450.1 368.8C449.1 366.92 448.4 363.88 448.9 361.7C449.4 359.52 451.22 357.03 453.1 355.7C454.98 354.37 458.02 353.9 460.2 353.7C462.38 353.5 464.22 353.57 466.2 354.5C468.18 355.43 470.62 357.12 472.1 359.3C473.58 361.48 474.5 364.23 475.1 367.6C475.7 370.97 475.9 375.53 475.7 379.5C475.5 383.47 474.88 387.63 473.9 391.4C472.92 395.17 471.22 398.58 469.8 402.1C468.38 405.62 466.85 409.45 465.4 412.5C463.95 415.55 461.82 419.08 461.1 420.4" stroke="#fff" stroke-width="1.75"/>
<path d="M455.5 364.6L458.17 363.76" stroke="#111" stroke-width="1.7"/>
<path d="M450.1 404.5C450.1 405.3 450.78 408.1 450.1 409.3C449.42 410.5 447.38 411.8 446 411.7C444.62 411.6 442.6 410.2 441.8 408.7C441 407.2 440.5 404.48 441.2 402.7C441.9 400.92 444.02 398.78 446 398C447.98 397.22 450.93 397.32 453.1 398C455.27 398.68 457.77 399.98 459 402.1C460.23 404.22 460.4 408.2 460.5 410.7C460.6 413.2 460.28 415.02 459.6 417.1C458.92 419.18 457.58 421.35 456.4 423.2C455.22 425.05 453.63 426.97 452.5 428.2C451.37 429.43 450.08 430.2 449.6 430.6" stroke="#111" stroke-width="3.7"/>
<path d="M450.1 404.5C450.1 405.3 450.78 408.1 450.1 409.3C449.42 410.5 447.38 411.8 446 411.7C444.62 411.6 442.6 410.2 441.8 408.7C441 407.2 440.5 404.48 441.2 402.7C441.9 400.92 444.02 398.78 446 398C447.98 397.22 450.93 397.32 453.1 398C455.27 398.68 457.77 399.98 459 402.1C460.23 404.22 460.4 408.2 460.5 410.7C460.6 413.2 460.28 415.02 459.6 417.1C458.92 419.18 457.58 421.35 456.4 423.2C455.22 425.05 453.63 426.97 452.5 428.2C451.37 429.43 450.08 430.2 449.6 430.6" stroke="#fff" stroke-width="1.75"/>
<path d="M450.1 404.5L450.1 407.3" stroke="#111" stroke-width="1.7"/>
<path d="M384.7 424.4C384.8 425.17 385.85 427.8 385.3 429C384.75 430.2 382.82 431.6 381.4 431.6C379.98 431.6 377.78 430.42 376.8 429C375.82 427.58 375.07 424.95 375.5 423.1C375.93 421.25 377.55 418.98 379.4 417.9C381.25 416.82 384.3 416.07 386.6 416.6C388.9 417.13 391.57 418.92 393.2 421.1C394.83 423.28 395.97 426.53 396.4 429.7C396.83 432.87 396.45 436.62 395.8 440.1C395.15 443.58 393.92 447.32 392.5 450.6C391.08 453.88 389.48 456.97 387.3 459.8C385.12 462.63 381.58 464.77 379.4 467.6C377.22 470.43 375.28 473.52 374.2 476.8C373.12 480.08 372.47 483.8 372.9 487.3C373.33 490.8 374.83 494.75 376.8 497.8C378.77 500.85 381.65 503.53 384.7 505.6C387.75 507.67 391.4 509.32 395.1 510.2C398.8 511.08 402.97 511.45 406.9 510.9C410.83 510.35 414.98 508.65 418.7 506.9C422.42 505.15 426.13 503.02 429.2 500.4C432.27 497.78 435.03 494.48 437.1 491.2C439.17 487.92 441 484.4 441.6 480.7C442.2 477 441.78 472.1 440.7 469C439.62 465.9 437.35 463.42 435.1 462.1C432.85 460.78 429.28 460.4 427.2 461.1C425.12 461.8 423.25 464.33 422.6 466.3C421.95 468.27 422.42 471.37 423.3 472.9C424.18 474.43 426.37 475.5 427.9 475.5C429.43 475.5 431.85 474.1 432.5 472.9C433.15 471.7 431.92 469.07 431.8 468.3" stroke="#111" stroke-width="3.7"/>
<path d="M384.7 424.4C384.8 425.17 385.85 427.8 385.3 429C384.75 430.2 382.82 431.6 381.4 431.6C379.98 431.6 377.78 430.42 376.8 429C375.82 427.58 375.07 424.95 375.5 423.1C375.93 421.25 377.55 418.98 379.4 417.9C381.25 416.82 384.3 416.07 386.6 416.6C388.9 417.13 391.57 418.92 393.2 421.1C394.83 423.28 395.97 426.53 396.4 429.7C396.83 432.87 396.45 436.62 395.8 440.1C395.15 443.58 393.92 447.32 392.5 450.6C391.08 453.88 389.48 456.97 387.3 459.8C385.12 462.63 381.58 464.77 379.4 467.6C377.22 470.43 375.28 473.52 374.2 476.8C373.12 480.08 372.47 483.8 372.9 487.3C373.33 490.8 374.83 494.75 376.8 497.8C378.77 500.85 381.65 503.53 384.7 505.6C387.75 507.67 391.4 509.32 395.1 510.2C398.8 511.08 402.97 511.45 406.9 510.9C410.83 510.35 414.98 508.65 418.7 506.9C422.42 505.15 426.13 503.02 429.2 500.4C432.27 497.78 435.03 494.48 437.1 491.2C439.17 487.92 441 484.4 441.6 480.7C442.2 477 441.78 472.1 440.7 469C439.62 465.9 437.35 463.42 435.1 462.1C432.85 460.78 429.28 460.4 427.2 461.1C425.12 461.8 423.25 464.33 422.6 466.3C421.95 468.27 422.42 471.37 423.3 472.9C424.18 474.43 426.37 475.5 427.9 475.5C429.43 475.5 431.85 474.1 432.5 472.9C433.15 471.7 431.92 469.07 431.8 468.3" stroke="#fff" stroke-width="1.75"/>
<path d="M384.7 424.4L385.06 427.18" stroke="#111" stroke-width="1.7"/>
<path d="M431.8 468.3L432.22 471.07" stroke="#111" stroke-width="1.7"/>
<path d="M390.5 482.1C391.27 482.97 393.23 486.55 395.1 487.3C396.97 488.05 399.83 487.58 401.7 486.6C403.57 485.62 405.43 483.68 406.3 481.4C407.17 479.12 407.57 475.52 406.9 472.9C406.23 470.28 404.27 467.45 402.3 465.7C400.33 463.95 397.38 463.1 395.1 462.4C392.82 461.7 389.68 461.65 388.6 461.5" stroke="#111" stroke-width="3.7"/>
<path d="M390.5 482.1C391.27 482.97 393.23 486.55 395.1 487.3C396.97 488.05 399.83 487.58 401.7 486.6C403.57 485.62 405.43 483.68 406.3 481.4C407.17 479.12 407.57 475.52 406.9 472.9C406.23 470.28 404.27 467.45 402.3 465.7C400.33 463.95 397.38 463.1 395.1 462.4C392.82 461.7 389.68 461.65 388.6 461.5" stroke="#fff" stroke-width="1.75"/>
<path d="M390.5 482.1L392.36 484.2" stroke="#111" stroke-width="1.7"/>
<path d="M438.6 442.8C438.28 443.67 437.18 446.48 436.7 448C436.22 449.52 435.87 451.25 435.7 451.9" stroke="#111" stroke-width="3.7"/>
<path d="M438.6 442.8C438.28 443.67 437.18 446.48 436.7 448C436.22 449.52 435.87 451.25 435.7 451.9" stroke="#fff" stroke-width="1.75"/>
<path d="M430.5 449.3C430.57 450 431.45 452.47 430.9 453.5C430.35 454.53 428.45 455.65 427.2 455.5C425.95 455.35 424 453.9 423.4 452.6C422.8 451.3 422.9 448.95 423.6 447.7C424.3 446.45 426.05 445.27 427.6 445.1C429.15 444.93 431.55 445.57 432.9 446.7C434.25 447.83 435.55 450.15 435.7 451.9C435.85 453.65 434.88 455.85 433.8 457.2C432.72 458.55 429.97 459.53 429.2 460" stroke="#111" stroke-width="3.7"/>
<path d="M430.5 449.3C430.57 450 431.45 452.47 430.9 453.5C430.35 454.53 428.45 455.65 427.2 455.5C425.95 455.35 424 453.9 423.4 452.6C422.8 451.3 422.9 448.95 423.6 447.7C424.3 446.45 426.05 445.27 427.6 445.1C429.15 444.93 431.55 445.57 432.9 446.7C434.25 447.83 435.55 450.15 435.7 451.9C435.85 453.65 434.88 455.85 433.8 457.2C432.72 458.55 429.97 459.53 429.2 460" stroke="#fff" stroke-width="1.75"/>
<path d="M430.5 449.3L430.77 452.09" stroke="#111" stroke-width="1.7"/>
<path d="M468.6 433.6C468.3 433.35 467.55 432.25 466.8 432.1C466.05 431.95 464.85 432.15 464.1 432.7C463.35 433.25 462.58 434.4 462.3 435.4C462.02 436.4 462 437.7 462.4 438.7C462.8 439.7 463.65 440.83 464.7 441.4C465.75 441.97 467.37 442.27 468.7 442.1C470.03 441.93 471.58 441.35 472.7 440.4C473.82 439.45 474.92 437.9 475.4 436.4C475.88 434.9 475.9 432.95 475.6 431.4C475.3 429.85 474.65 428.32 473.6 427.1C472.55 425.88 470.97 424.72 469.3 424.1C467.63 423.48 465.48 423.23 463.6 423.4C461.72 423.57 459.65 424.22 458 425.1C456.35 425.98 454.83 427.28 453.7 428.7C452.57 430.12 451.67 431.83 451.2 433.6C450.73 435.37 450.72 437.28 450.9 439.3C451.08 441.32 451.6 443.68 452.3 445.7C453 447.72 454.03 449.5 455.1 451.4C456.17 453.3 457.4 455.32 458.7 457.1C460 458.88 461.05 459.9 462.9 462.1C464.75 464.3 467.67 467.42 469.8 470.3C471.93 473.18 474.5 476.13 475.7 479.4C476.9 482.67 477.43 486.4 477 489.9C476.57 493.4 475.17 497.45 473.1 500.4C471.03 503.35 467.77 505.75 464.6 507.6C461.43 509.45 457.6 510.95 454.1 511.5C450.6 512.05 446.67 511.67 443.6 510.9C440.53 510.13 437.67 508.1 435.7 506.9C433.73 505.7 432.45 504.23 431.8 503.7" stroke="#111" stroke-width="3.7"/>
<path d="M468.6 433.6C468.3 433.35 467.55 432.25 466.8 432.1C466.05 431.95 464.85 432.15 464.1 432.7C463.35 433.25 462.58 434.4 462.3 435.4C462.02 436.4 462 437.7 462.4 438.7C462.8 439.7 463.65 440.83 464.7 441.4C465.75 441.97 467.37 442.27 468.7 442.1C470.03 441.93 471.58 441.35 472.7 440.4C473.82 439.45 474.92 437.9 475.4 436.4C475.88 434.9 475.9 432.95 475.6 431.4C475.3 429.85 474.65 428.32 473.6 427.1C472.55 425.88 470.97 424.72 469.3 424.1C467.63 423.48 465.48 423.23 463.6 423.4C461.72 423.57 459.65 424.22 458 425.1C456.35 425.98 454.83 427.28 453.7 428.7C452.57 430.12 451.67 431.83 451.2 433.6C450.73 435.37 450.72 437.28 450.9 439.3C451.08 441.32 451.6 443.68 452.3 445.7C453 447.72 454.03 449.5 455.1 451.4C456.17 453.3 457.4 455.32 458.7 457.1C460 458.88 461.05 459.9 462.9 462.1C464.75 464.3 467.67 467.42 469.8 470.3C471.93 473.18 474.5 476.13 475.7 479.4C476.9 482.67 477.43 486.4 477 489.9C476.57 493.4 475.17 497.45 473.1 500.4C471.03 503.35 467.77 505.75 464.6 507.6C461.43 509.45 457.6 510.95 454.1 511.5C450.6 512.05 446.67 511.67 443.6 510.9C440.53 510.13 437.67 508.1 435.7 506.9C433.73 505.7 432.45 504.23 431.8 503.7" stroke="#fff" stroke-width="1.75"/>
<path d="M468.6 433.6L466.45 431.81" stroke="#111" stroke-width="1.7"/>
<path d="M431.8 503.7L433.96 505.48" stroke="#111" stroke-width="1.7"/>
<path d="M457.4 486C456.58 486.53 454.15 489.2 452.5 489.2C450.85 489.2 448.75 487.63 447.5 486C446.25 484.37 445.1 481.63 445 479.4C444.9 477.17 445.65 474.33 446.9 472.6C448.15 470.87 450.43 469.72 452.5 469C454.57 468.28 457.05 468.3 459.3 468.3C461.55 468.3 464.88 468.88 466 469" stroke="#111" stroke-width="3.7"/>
<path d="M457.4 486C456.58 486.53 454.15 489.2 452.5 489.2C450.85 489.2 448.75 487.63 447.5 486C446.25 484.37 445.1 481.63 445 479.4C444.9 477.17 445.65 474.33 446.9 472.6C448.15 470.87 450.43 469.72 452.5 469C454.57 468.28 457.05 468.3 459.3 468.3C461.55 468.3 464.88 468.88 466 469" stroke="#fff" stroke-width="1.75"/>
<path d="M457.4 486L455.06 487.53" stroke="#111" stroke-width="1.7"/>
<path d="M415 289.5L420.4 289.3" stroke="#111" stroke-width="0.9"/>
</g>
<g id="door-post">
<line x1="307.6" y1="254.3" x2="391" y2="254.3" stroke="#6a6a6a" stroke-width="0.8"/>
<circle cx="391.3" cy="254.3" r="0.9" fill="#000" stroke="none" stroke-width="0"/>
<line x1="307.6" y1="313.6" x2="410.5" y2="313.6" stroke="#6a6a6a" stroke-width="0.8"/>
<line x1="410.8" y1="311.8" x2="410.8" y2="315.4" stroke="#000" stroke-width="1.2"/>
<line x1="309.7" y1="398.1" x2="503" y2="398.1" stroke="#6a6a6a" stroke-width="0.8"/>
<circle cx="505" cy="397.8" r="2" fill="none" stroke="#222" stroke-width="0.8"/>
<line x1="501.8" y1="397.8" x2="508.2" y2="397.8" stroke="#222" stroke-width="0.7"/>
<line x1="505" y1="394.3" x2="505" y2="401.3" stroke="#222" stroke-width="0.7"/>
</g>
<g id="form">
<text x="2.58" y="622.1" font-size="11.59" textLength="311.9" lengthAdjust="spacingAndGlyphs">*Size shown in PO is unit size including frame and threshold.</text>
<text x="2.58" y="632.8" font-size="11.59" textLength="401.4" lengthAdjust="spacingAndGlyphs">*Any change once signed and sent to production might result in extra charges.</text>
<text x="6.7" y="642.5" font-size="8.3" textLength="707.3" lengthAdjust="spacingAndGlyphs">Exclusive Iron Doors stands behind the quality of everything we sell and hope you are pleased with your product, if for any reason you are unsatis   ed you can write to one of our</text>
<text x="6.7" y="652.6" font-size="8.3" textLength="743.8" lengthAdjust="spacingAndGlyphs">representatives to verify your situation and determine how can we help you, but we do not accept returns in any of our products.Products are    nal and are not eligible for returns, changes</text>
<text x="6.7" y="663" font-size="8.3" textLength="645.3" lengthAdjust="spacingAndGlyphs">or alterations.By signing you agree to our terms and conditions, delivery pdf and forms of payment. *Doors measurements do not include the gaps between jambs</text>
<rect x="2" y="664" width="789.4" height="158" fill="#fff" stroke="#000" stroke-width="1.3"/>
<rect x="791.4" y="664" width="194.1" height="156.5" fill="#fff" stroke="#000" stroke-width="1.1"/>
<line x1="171.4" y1="664" x2="171.4" y2="822" stroke="#000" stroke-width="1.3"/>
<line x1="482.7" y1="664" x2="482.7" y2="822" stroke="#000" stroke-width="1.3"/>
<line x1="2" y1="724" x2="171.4" y2="724" stroke="#000" stroke-width="1.3"/>
<line x1="2" y1="768.8" x2="79" y2="768.8" stroke="#000" stroke-width="1.3"/>
<line x1="97.5" y1="768.8" x2="171.4" y2="768.8" stroke="#000" stroke-width="1.3"/>
<text x="83.93" y="771.6" font-size="10.32" textLength="9.18" lengthAdjust="spacingAndGlyphs">or</text>
<text x="6.53" y="679" font-size="9.05" textLength="46.28" lengthAdjust="spacingAndGlyphs">PRODUCT:</text>
<rect x="55.4" y="670.4" width="15.2" height="12.9" fill="#fff" stroke="#000" stroke-width="1.1"/>
<rect x="58.6" y="672.8" width="8.8" height="7.9" fill="#000" stroke="none" stroke-width="0"/>
<text x="73.73" y="681" font-size="9.45" textLength="20.48" lengthAdjust="spacingAndGlyphs">Door</text>
<rect x="114.9" y="670.4" width="15.2" height="12.9" fill="#fff" stroke="#000" stroke-width="1.1"/>
<text x="133.63" y="681" font-size="9.68" textLength="20.98" lengthAdjust="spacingAndGlyphs">Gate</text>
<rect x="55.4" y="687.3" width="15.2" height="12.5" fill="#fff" stroke="#000" stroke-width="1.1"/>
<text x="73.73" y="698" font-size="9.58" textLength="34.08" lengthAdjust="spacingAndGlyphs">Window</text>
<rect x="114.9" y="687.3" width="15.2" height="12.5" fill="#fff" stroke="#000" stroke-width="1.1"/>
<text x="133.63" y="698" font-size="9.39" textLength="30.78" lengthAdjust="spacingAndGlyphs">Railling</text>
<rect x="55.4" y="704.3" width="15.2" height="12.4" fill="#fff" stroke="#000" stroke-width="1.1"/>
<text x="73.73" y="714.9" font-size="9.75" textLength="24.38" lengthAdjust="spacingAndGlyphs">Other</text>
<line x1="103" y1="716" x2="164.5" y2="716" stroke="#000" stroke-width="0.9"/>
<text x="6.53" y="737.1" font-size="8.94" textLength="36.78" lengthAdjust="spacingAndGlyphs">DESIGN:</text>
<rect x="52" y="730.3" width="15.2" height="12.9" fill="#fff" stroke="#000" stroke-width="1.1"/>
<rect x="55.2" y="732.7" width="8.8" height="7.9" fill="#000" stroke="none" stroke-width="0"/>
<text x="70.53" y="741.2" font-size="9.42" textLength="54.28" lengthAdjust="spacingAndGlyphs">Wrought Iron</text>
<text x="20.53" y="757.9" font-size="9.67" textLength="28.48" lengthAdjust="spacingAndGlyphs">Name:</text>
<text x="50.63" y="757.9" font-size="9.32" textLength="42.98" lengthAdjust="spacingAndGlyphs">JULIETTE</text>
<line x1="50.9" y1="758.8" x2="165.2" y2="758.8" stroke="#000" stroke-width="0.9"/>
<rect x="6.1" y="775.6" width="14.3" height="12" fill="#fff" stroke="#000" stroke-width="1.1"/>
<text x="23.8" y="786.4" font-size="9">Riva:</text>
<line x1="43.5" y1="786.9" x2="103.4" y2="786.9" stroke="#000" stroke-width="0.9"/>
<line x1="137.6" y1="786.9" x2="164.5" y2="786.9" stroke="#000" stroke-width="0.9"/>
<text x="109.44" y="796.6" font-size="9.31" textLength="24.83" lengthAdjust="spacingAndGlyphs">#Lites</text>
<rect x="6.1" y="800" width="14.3" height="12.4" fill="#fff" stroke="#000" stroke-width="1.1"/>
<text x="23.93" y="807.9" font-size="9.36" textLength="37.98" lengthAdjust="spacingAndGlyphs">Standard</text>
<text x="25.73" y="818.6" font-size="9.39" textLength="30.48" lengthAdjust="spacingAndGlyphs">(1 1/2")</text>
<rect x="61.5" y="800" width="14.3" height="12.4" fill="#fff" stroke="#000" stroke-width="1.1"/>
<text x="79.33" y="807.9" font-size="9.4" textLength="18.28" lengthAdjust="spacingAndGlyphs">Slim</text>
<text x="79.33" y="818.6" font-size="9.48" textLength="30.78" lengthAdjust="spacingAndGlyphs">(1 1/4")</text>
<rect x="109.3" y="800" width="14.5" height="12.4" fill="#fff" stroke="#000" stroke-width="1.1"/>
<text x="126.83" y="807.9" font-size="8.93" textLength="43.68" lengthAdjust="spacingAndGlyphs">Super Slim</text>
<text x="126.83" y="818.6" font-size="9.19" textLength="42.58" lengthAdjust="spacingAndGlyphs">(1/2") SDL</text>
<line x1="171.4" y1="720.4" x2="482.7" y2="720.4" stroke="#000" stroke-width="1.3"/>
<line x1="171.4" y1="747.7" x2="482.7" y2="747.7" stroke="#000" stroke-width="1.3"/>
<line x1="171.4" y1="773.7" x2="482.7" y2="773.7" stroke="#000" stroke-width="1.3"/>
<line x1="171.4" y1="794.8" x2="482.7" y2="794.8" stroke="#000" stroke-width="1.3"/>
<line x1="315.4" y1="747.7" x2="315.4" y2="773.7" stroke="#000" stroke-width="1.3"/>
<text x="174.44" y="674.9" font-size="8.91" textLength="36.14" lengthAdjust="spacingAndGlyphs">HANDLE</text>
<rect x="213.5" y="669.1" width="14.1" height="11.5" fill="#fff" stroke="#000" stroke-width="1.1"/>
<rect x="216.7" y="671.5" width="7.7" height="6.5" fill="#000" stroke="none" stroke-width="0"/>
<text x="230.13" y="677.8" font-size="9.13" textLength="31.48" lengthAdjust="spacingAndGlyphs">Handle:</text>
<text x="281.53" y="674.1" font-size="9.33" textLength="70.38" lengthAdjust="spacingAndGlyphs">Florence Twisted</text>
<line x1="276.4" y1="677.8" x2="363.3" y2="677.8" stroke="#000" stroke-width="0.9"/>
<text x="230.18" y="686.4" font-size="8.01" textLength="125.5" lengthAdjust="spacingAndGlyphs">(with rollercatch and deadbolt prep)</text>
<rect x="213.5" y="687.5" width="13.2" height="11.9" fill="#fff" stroke="#000" stroke-width="1.1"/>
<text x="230.83" y="698.3" font-size="9.3" textLength="136.98" lengthAdjust="spacingAndGlyphs">American standard double boring</text>
<rect x="213.5" y="704.4" width="13.2" height="11.3" fill="#fff" stroke="#000" stroke-width="1.1"/>
<text x="230.83" y="715.2" font-size="9.1" textLength="25.28" lengthAdjust="spacingAndGlyphs">Other:</text>
<line x1="260.8" y1="715.9" x2="350" y2="715.9" stroke="#000" stroke-width="0.9"/>
<rect x="384.7" y="669.1" width="13.7" height="11.5" fill="#fff" stroke="#000" stroke-width="1.1"/>
<text x="403.93" y="680.6" font-size="9.37" textLength="65.08" lengthAdjust="spacingAndGlyphs">Panic hardware</text>
<rect x="384.7" y="686.4" width="13.7" height="10.9" fill="#fff" stroke="#000" stroke-width="1.1"/>
<text x="401.83" y="696.2" font-size="9.42" textLength="52.38" lengthAdjust="spacingAndGlyphs">Autocloser #</text>
<line x1="451" y1="697.5" x2="474.7" y2="697.5" stroke="#000" stroke-width="0.9"/>
<rect x="384.7" y="703.1" width="13.7" height="10.8" fill="#fff" stroke="#000" stroke-width="1.1"/>
<text x="401.83" y="713.1" font-size="9.75" textLength="33.98" lengthAdjust="spacingAndGlyphs">P. Bar #</text>
<line x1="429.6" y1="714.2" x2="453.4" y2="714.2" stroke="#000" stroke-width="0.9"/>
<text x="175.34" y="729.8" font-size="9.74" textLength="34.64" lengthAdjust="spacingAndGlyphs">COLOR</text>
<rect x="175.6" y="733" width="30.6" height="11.3" fill="none" stroke="#222" stroke-width="1"/>
<text x="179.23" y="741.2" font-size="9.32" textLength="22.78" lengthAdjust="spacingAndGlyphs">Black</text>
<text x="211.33" y="741.2" font-size="9.21" textLength="41.98" lengthAdjust="spacingAndGlyphs">Dark ORB</text>
<text x="262.63" y="741.2" font-size="9.21" textLength="55.28" lengthAdjust="spacingAndGlyphs">Medium ORB</text>
<text x="327.63" y="741.2" font-size="9.24" textLength="48.78" lengthAdjust="spacingAndGlyphs">Heavy ORB</text>
<text x="388.13" y="741.2" font-size="9.41" textLength="29.28" lengthAdjust="spacingAndGlyphs">Pewter</text>
<text x="426.53" y="741.2" font-size="9.28" textLength="51.58" lengthAdjust="spacingAndGlyphs">Antique gold</text>
<text x="175.34" y="757.3" font-size="8.96" textLength="61.74" lengthAdjust="spacingAndGlyphs">ACTIVE DOOR</text>
<rect x="234.8" y="760.5" width="13.6" height="11.1" fill="#fff" stroke="#000" stroke-width="1.1"/>
<text x="251.83" y="769.8" font-size="9.46" textLength="22.08" lengthAdjust="spacingAndGlyphs">Right</text>
<rect x="278.5" y="760.5" width="14.1" height="11.1" fill="#fff" stroke="#000" stroke-width="1.1"/>
<rect x="281.7" y="762.9" width="7.7" height="6.1" fill="#000" stroke="none" stroke-width="0"/>
<text x="295.13" y="769.8" font-size="9.52" textLength="15.88" lengthAdjust="spacingAndGlyphs">Left</text>
<text x="319.44" y="757.3" font-size="9.25" textLength="31.34" lengthAdjust="spacingAndGlyphs">SWING</text>
<rect x="356.1" y="759.7" width="13.7" height="11.2" fill="#fff" stroke="#000" stroke-width="1.1"/>
<rect x="359.3" y="762.1" width="7.3" height="6.2" fill="#000" stroke="none" stroke-width="0"/>
<text x="372.73" y="769" font-size="9.69" textLength="8.08" lengthAdjust="spacingAndGlyphs">In</text>
<rect x="392.8" y="759.7" width="13.6" height="11.2" fill="#fff" stroke="#000" stroke-width="1.1"/>
<text x="409.83" y="769" font-size="9.42" textLength="15.18" lengthAdjust="spacingAndGlyphs">Out</text>
<text x="176.44" y="784.4" font-size="8.88" textLength="26.14" lengthAdjust="spacingAndGlyphs">JAMB:</text>
<text x="213.7" y="786.7" font-size="8.6" textLength="11.3" lengthAdjust="spacingAndGlyphs">5 "</text>
<line x1="205" y1="788.7" x2="248.8" y2="788.7" stroke="#000" stroke-width="0.9"/>
<text x="176.44" y="806.7" font-size="8.88" textLength="54.74" lengthAdjust="spacingAndGlyphs">THRESHOLD</text>
<rect x="232.2" y="804.1" width="13.8" height="11.2" fill="#fff" stroke="#000" stroke-width="1.1"/>
<rect x="235.4" y="806.5" width="7.4" height="6.2" fill="#000" stroke="none" stroke-width="0"/>
<text x="248.53" y="813.6" font-size="9.29" textLength="45.98" lengthAdjust="spacingAndGlyphs">Residential</text>
<rect x="295.4" y="804.1" width="13.7" height="11.2" fill="#fff" stroke="#000" stroke-width="1.1"/>
<text x="312.53" y="813.6" font-size="9.33" textLength="49.78" lengthAdjust="spacingAndGlyphs">Commercial</text>
<rect x="368" y="804.1" width="13.7" height="11.2" fill="#fff" stroke="#000" stroke-width="1.1"/>
<text x="385.03" y="812.1" font-size="9.33" textLength="38.88" lengthAdjust="spacingAndGlyphs">Outswing</text>
<rect x="430.7" y="804.1" width="13" height="11.2" fill="#fff" stroke="#000" stroke-width="1.1"/>
<text x="446.63" y="813.2" font-size="9.77" textLength="16.28" lengthAdjust="spacingAndGlyphs">N/A</text>
<line x1="482.7" y1="690.3" x2="791.4" y2="690.3" stroke="#000" stroke-width="1.3"/>
<line x1="482.7" y1="713.9" x2="791.4" y2="713.9" stroke="#000" stroke-width="1.3"/>
<line x1="482.7" y1="743.8" x2="791.4" y2="743.8" stroke="#000" stroke-width="1.3"/>
<line x1="482.7" y1="770.5" x2="791.4" y2="770.5" stroke="#000" stroke-width="1.3"/>
<line x1="482.7" y1="798" x2="791.4" y2="798" stroke="#000" stroke-width="1.3"/>
<line x1="593.3" y1="690.3" x2="593.3" y2="713.9" stroke="#000" stroke-width="1.3"/>
<line x1="609.9" y1="713.9" x2="609.9" y2="743.8" stroke="#000" stroke-width="1.3"/>
<line x1="632.3" y1="770.5" x2="632.3" y2="798" stroke="#000" stroke-width="1.3"/>
<line x1="735.6" y1="798" x2="735.6" y2="822" stroke="#000" stroke-width="1.3"/>
<text x="491.04" y="673.4" font-size="9.03" textLength="74.73" lengthAdjust="spacingAndGlyphs">DOOR/Glass type:</text>
<text x="501.25" y="684.9" font-size="9.57" textLength="21.8" lengthAdjust="spacingAndGlyphs">Frost</text>
<text x="544.85" y="684.9" font-size="9.43" textLength="34.6" lengthAdjust="spacingAndGlyphs">Aquatex</text>
<text x="601.65" y="684.9" font-size="9.53" textLength="19.6" lengthAdjust="spacingAndGlyphs">Rain</text>
<text x="649.35" y="684.9" font-size="9.25" textLength="32.4" lengthAdjust="spacingAndGlyphs">Flemish</text>
<rect x="702.7" y="672.8" width="41.8" height="15.8" fill="none" stroke="#000" stroke-width="1.7"/>
<text x="711.05" y="684.9" font-size="9.5" textLength="22.7" lengthAdjust="spacingAndGlyphs">Clear</text>
<text x="770.65" y="684.9" font-size="9.72" textLength="16.2" lengthAdjust="spacingAndGlyphs">N/A</text>
<rect x="494.6" y="696.2" width="13.6" height="11.2" fill="#fff" stroke="#000" stroke-width="1.1"/>
<text x="511.64" y="705.9" font-size="9.28" textLength="63.93" lengthAdjust="spacingAndGlyphs">Hurricane rated</text>
<rect x="616" y="696.2" width="14.1" height="11.2" fill="#fff" stroke="#000" stroke-width="1.1"/>
<rect x="619.2" y="698.6" width="7.7" height="6.2" fill="#000" stroke="none" stroke-width="0"/>
<text x="633.75" y="705.9" font-size="9.19" textLength="37.8" lengthAdjust="spacingAndGlyphs">Operable</text>
<rect x="674.5" y="696.2" width="13" height="11.2" fill="#fff" stroke="#000" stroke-width="1.1"/>
<text x="690.84" y="706.4" font-size="12.12" textLength="52.54" lengthAdjust="spacingAndGlyphs">Screen or</text>
<rect x="749.9" y="696.2" width="13.4" height="11.2" fill="#fff" stroke="#000" stroke-width="1.1"/>
<text x="766.95" y="705.9" font-size="9.04" textLength="22.1" lengthAdjust="spacingAndGlyphs">Fixed</text>
<text x="492.15" y="724.3" font-size="8.74" textLength="43.7" lengthAdjust="spacingAndGlyphs">TRANSOM</text>
<text x="492.15" y="735.6" font-size="9.3" textLength="46.5" lengthAdjust="spacingAndGlyphs">Glass type:</text>
<line x1="536" y1="738.9" x2="590.4" y2="738.9" stroke="#000" stroke-width="0.9"/>
<text x="615.15" y="723.9" font-size="8.83" textLength="52.5" lengthAdjust="spacingAndGlyphs">SIDELIGHTS</text>
<text x="620.05" y="738" font-size="9.22" textLength="46.1" lengthAdjust="spacingAndGlyphs">Glass type:</text>
<line x1="664" y1="739.6" x2="715.7" y2="739.6" stroke="#000" stroke-width="0.9"/>
<rect x="729.3" y="725.9" width="13.5" height="11.4" fill="#fff" stroke="#000" stroke-width="1.1"/>
<text x="746.45" y="735.6" font-size="9.34" textLength="29.6" lengthAdjust="spacingAndGlyphs">Screen</text>
<text x="492.15" y="754.2" font-size="8.84" textLength="21.6" lengthAdjust="spacingAndGlyphs">TRIM</text>
<rect x="517.3" y="751.4" width="13.5" height="11.3" fill="#fff" stroke="#000" stroke-width="1.1"/>
<text x="533.75" y="761.6" font-size="9.33" textLength="24.9" lengthAdjust="spacingAndGlyphs">Inside</text>
<line x1="562.4" y1="760.6" x2="591.7" y2="760.6" stroke="#000" stroke-width="0.9"/>
<rect x="602.4" y="751.4" width="13.2" height="11.3" fill="#fff" stroke="#000" stroke-width="1.1"/>
<text x="619.05" y="761.6" font-size="9.4" textLength="32.4" lengthAdjust="spacingAndGlyphs">Outside</text>
<line x1="654.4" y1="760.7" x2="683.2" y2="760.7" stroke="#000" stroke-width="0.9"/>
<rect x="715.2" y="751.4" width="13.5" height="11.3" fill="#fff" stroke="#000" stroke-width="1.1"/>
<rect x="718.4" y="753.8" width="7.1" height="6.3" fill="#000" stroke="none" stroke-width="0"/>
<text x="731.65" y="761.8" font-size="9.48" textLength="15.8" lengthAdjust="spacingAndGlyphs">N/A</text>
<text x="491.05" y="781.8" font-size="8.95" textLength="42.6" lengthAdjust="spacingAndGlyphs">PACKAGE</text>
<rect x="536.8" y="778.5" width="13.7" height="11.3" fill="#fff" stroke="#000" stroke-width="1.1"/>
<text x="553.95" y="788.3" font-size="9.34" textLength="16.1" lengthAdjust="spacingAndGlyphs">Box</text>
<rect x="575.8" y="778.5" width="13.5" height="11.3" fill="#fff" stroke="#000" stroke-width="1.1"/>
<text x="592.45" y="788.3" font-size="9.4" textLength="29.8" lengthAdjust="spacingAndGlyphs">No box</text>
<rect x="640.9" y="778.5" width="13.5" height="11.3" fill="#fff" stroke="#000" stroke-width="1.1"/>
<text x="657.55" y="788.3" font-size="9.26" textLength="24.2" lengthAdjust="spacingAndGlyphs">Install</text>
<rect x="687.5" y="778.5" width="14.1" height="11.3" fill="#fff" stroke="#000" stroke-width="1.1"/>
<text x="704.55" y="788.3" font-size="9.27" textLength="33.5" lengthAdjust="spacingAndGlyphs">Delivery</text>
<rect x="742.8" y="778.5" width="13.6" height="11.3" fill="#fff" stroke="#000" stroke-width="1.1"/>
<text x="759.85" y="788.3" font-size="9.4" textLength="15.5" lengthAdjust="spacingAndGlyphs">LTL</text>
<text x="486.15" y="808.4" font-size="8.92" textLength="78.5" lengthAdjust="spacingAndGlyphs">GLASS TEMPLATE</text>
<rect x="567.6" y="804.9" width="13.2" height="11.5" fill="#fff" stroke="#000" stroke-width="1.1"/>
<text x="584.25" y="814.3" font-size="9.38" textLength="57.9" lengthAdjust="spacingAndGlyphs">Sent #Pieces:</text>
<line x1="639" y1="814.6" x2="679.5" y2="814.6" stroke="#000" stroke-width="0.9"/>
<rect x="691.8" y="804.1" width="13.5" height="11.2" fill="#fff" stroke="#000" stroke-width="1.1"/>
<text x="708.45" y="813.8" font-size="9.36" textLength="15.6" lengthAdjust="spacingAndGlyphs">N/A</text>
<text x="740.75" y="811.4" font-size="9.22" textLength="48.7" lengthAdjust="spacingAndGlyphs">GAUGE: 14</text>
<text x="797.15" y="680.2" font-size="11.86" textLength="38.88" lengthAdjust="spacingAndGlyphs">*Notes:</text>
<text x="797.15" y="698" font-size="11.74" textLength="67.18" lengthAdjust="spacingAndGlyphs" fill="#ea3323">-Color: Black</text>
<text x="797.15" y="719.4" font-size="11.82" textLength="58.08" lengthAdjust="spacingAndGlyphs" fill="#ea3323">-Glass:5/8"</text>
<text x="797.15" y="740" font-size="11.73" textLength="115.18" lengthAdjust="spacingAndGlyphs" fill="#ea3323">-Pull:Florence Twisted</text>
<line x1="995.3" y1="784.2" x2="1193.7" y2="784.2" stroke="#000" stroke-width="1.8"/>
<text x="1011.28" y="803" font-size="14.34" textLength="170.78" lengthAdjust="spacingAndGlyphs">CUSTOMERS APPROVAL</text>
</g>
</svg>
</body></html>
